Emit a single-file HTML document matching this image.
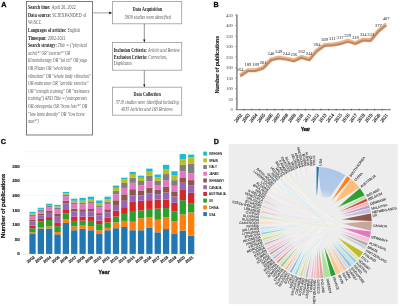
<!DOCTYPE html>
<html><head><meta charset="utf-8"><style>
html,body{margin:0;padding:0;background:#fff;width:400px;height:306px;overflow:hidden}
svg{display:block;will-change:transform;filter:blur(0.3px)}
</style></head><body>
<svg width="400" height="306" viewBox="0 0 400 306">
<rect width="400" height="306" fill="#fff"/>
<text x="1.3" y="6.5" font-family="Liberation Sans" font-weight="bold" font-size="7.2" fill="#111" stroke="#111" stroke-width="0.35">A</text>
<text x="213.6" y="6.6" font-family="Liberation Sans" font-weight="bold" font-size="7.2" fill="#111" stroke="#111" stroke-width="0.35">B</text>
<text x="0.8" y="143.8" font-family="Liberation Sans" font-weight="bold" font-size="7.2" fill="#111" stroke="#111" stroke-width="0.35">C</text>
<text x="213.8" y="144.0" font-family="Liberation Sans" font-weight="bold" font-size="7.2" fill="#111" stroke="#111" stroke-width="0.35">D</text>
<rect x="26.5" y="1.5" width="66" height="133.5" fill="none" stroke="#6e6e6e" stroke-width="0.9"/>
<text x="28" y="9.20" font-family="Liberation Serif" font-size="5.15" fill="#222" textLength="47.8" lengthAdjust="spacingAndGlyphs"><tspan font-weight="bold" font-style="normal" fill="#1a1a1a">Search time: </tspan><tspan font-weight="normal" font-style="normal" fill="#585858">April 26, 2022</tspan></text>
<text x="28" y="16.80" font-family="Liberation Serif" font-size="5.15" fill="#222" textLength="58.3" lengthAdjust="spacingAndGlyphs"><tspan font-weight="bold" font-style="normal" fill="#1a1a1a">Data source: </tspan><tspan font-weight="normal" font-style="normal" fill="#585858">SCIEXPANDED of</tspan></text>
<text x="28" y="24.40" font-family="Liberation Serif" font-size="5.15" fill="#222" textLength="13.5" lengthAdjust="spacingAndGlyphs"><tspan font-weight="normal" font-style="normal" fill="#585858">WoSCC</tspan></text>
<text x="28" y="32.00" font-family="Liberation Serif" font-size="5.15" fill="#222" textLength="52.0" lengthAdjust="spacingAndGlyphs"><tspan font-weight="bold" font-style="normal" fill="#1a1a1a">Languages of articles: </tspan><tspan font-weight="normal" font-style="normal" fill="#585858">English</tspan></text>
<text x="28" y="39.60" font-family="Liberation Serif" font-size="5.15" fill="#222" textLength="37.6" lengthAdjust="spacingAndGlyphs"><tspan font-weight="bold" font-style="normal" fill="#1a1a1a">Timespan: </tspan><tspan font-weight="normal" font-style="normal" fill="#585858">2002-2021</tspan></text>
<text x="28" y="47.20" font-family="Liberation Serif" font-size="5.15" fill="#222" textLength="59.0" lengthAdjust="spacingAndGlyphs"><tspan font-weight="bold" font-style="normal" fill="#1a1a1a">Search strategy: </tspan><tspan font-weight="normal" font-style="italic" fill="#585858">Title = ("physical</tspan></text>
<text x="28" y="54.80" font-family="Liberation Serif" font-size="5.15" fill="#222" textLength="42.0" lengthAdjust="spacingAndGlyphs"><tspan font-weight="normal" font-style="italic" fill="#585858">activit*" OR "exercise*" OR</tspan></text>
<text x="28" y="62.40" font-family="Liberation Serif" font-size="5.15" fill="#222" textLength="59.0" lengthAdjust="spacingAndGlyphs"><tspan font-weight="normal" font-style="italic" fill="#585858">Kinesiotherapy OR "tai chi" OR yoga</tspan></text>
<text x="28" y="70.00" font-family="Liberation Serif" font-size="5.15" fill="#222" textLength="44.0" lengthAdjust="spacingAndGlyphs"><tspan font-weight="normal" font-style="italic" fill="#585858">OR Pilates OR "whole body</tspan></text>
<text x="28" y="77.60" font-family="Liberation Serif" font-size="5.15" fill="#222" textLength="62.7" lengthAdjust="spacingAndGlyphs"><tspan font-weight="normal" font-style="italic" fill="#585858">vibration" OR "whole body vibration"</tspan></text>
<text x="28" y="85.20" font-family="Liberation Serif" font-size="5.15" fill="#222" textLength="60.4" lengthAdjust="spacingAndGlyphs"><tspan font-weight="normal" font-style="italic" fill="#585858">OR endurance OR "aerobic exercise"</tspan></text>
<text x="28" y="92.80" font-family="Liberation Serif" font-size="5.15" fill="#222" textLength="61.8" lengthAdjust="spacingAndGlyphs"><tspan font-weight="normal" font-style="italic" fill="#585858">OR "strength training" OR "resistance</tspan></text>
<text x="28" y="100.40" font-family="Liberation Serif" font-size="5.15" fill="#222" textLength="59.0" lengthAdjust="spacingAndGlyphs"><tspan font-weight="normal" font-style="italic" fill="#585858">training") AND Title = (osteoporosis</tspan></text>
<text x="28" y="108.00" font-family="Liberation Serif" font-size="5.15" fill="#222" textLength="59.2" lengthAdjust="spacingAndGlyphs"><tspan font-weight="normal" font-style="italic" fill="#585858">OR osteopenia OR "bone loss*" OR</tspan></text>
<text x="28" y="115.60" font-family="Liberation Serif" font-size="5.15" fill="#222" textLength="56.5" lengthAdjust="spacingAndGlyphs"><tspan font-weight="normal" font-style="italic" fill="#585858">"low bone density" OR "low bone</tspan></text>
<text x="28" y="123.20" font-family="Liberation Serif" font-size="5.15" fill="#222" textLength="10.7" lengthAdjust="spacingAndGlyphs"><tspan font-weight="normal" font-style="italic" fill="#585858">mass*")</tspan></text>
<g fill="none" stroke="#9a9a9a" stroke-width="0.8">
<rect x="112.4" y="1.6" width="69.3" height="22.2"/>
<rect x="112.4" y="42.4" width="69.3" height="27.8"/>
<rect x="112.4" y="87.2" width="69.3" height="28"/>
</g>
<line x1="92.9" y1="12.9" x2="110" y2="12.9" stroke="#8a8a8a" stroke-width="0.8"/>
<path d="M109.2 11.6 L112.2 12.9 L109.2 14.2 Z" fill="#111"/>
<line x1="144.3" y1="23.8" x2="144.3" y2="40.5" stroke="#777" stroke-width="0.8"/>
<path d="M143.2 39.6 L144.3 42.4 L145.4 39.6 Z" fill="#111"/>
<line x1="144.3" y1="70.2" x2="144.3" y2="85.3" stroke="#777" stroke-width="0.8"/>
<path d="M143.2 84.4 L144.3 87.2 L145.4 84.4 Z" fill="#111"/>
<text x="132.7" y="11.0" font-family="Liberation Serif" font-size="5.4" fill="#1a1a1a" font-style="normal" font-weight="bold" text-anchor="start" textLength="29.3" lengthAdjust="spacingAndGlyphs">Data Acquisition</text>
<text x="124.5" y="18.6" font-family="Liberation Serif" font-size="5.4" fill="#585858" font-style="italic" font-weight="normal" text-anchor="start" textLength="46.2" lengthAdjust="spacingAndGlyphs">5800 studies were identified</text>
<text x="113.7" y="51.5" font-family="Liberation Serif" font-size="5.4" fill="#222" textLength="66" lengthAdjust="spacingAndGlyphs"><tspan font-weight="bold" fill="#1a1a1a">Inclusion Criteria: </tspan><tspan fill="#585858" font-style="italic">Article and Review</tspan></text>
<text x="113.7" y="58.8" font-family="Liberation Serif" font-size="5.4" fill="#222" textLength="53.3" lengthAdjust="spacingAndGlyphs"><tspan font-weight="bold" fill="#1a1a1a">Exclusion Criteria: </tspan><tspan fill="#585858" font-style="italic">Correction,</tspan></text>
<text x="113.7" y="65.3" font-family="Liberation Serif" font-size="5.4" fill="#585858" font-style="italic" font-weight="normal" text-anchor="start" textLength="18.3" lengthAdjust="spacingAndGlyphs">Duplicates</text>
<text x="133.5" y="96.3" font-family="Liberation Serif" font-size="5.4" fill="#1a1a1a" font-style="normal" font-weight="bold" text-anchor="start" textLength="27.2" lengthAdjust="spacingAndGlyphs">Data Collection</text>
<text x="115.8" y="103.8" font-family="Liberation Serif" font-size="5.4" fill="#585858" font-style="italic" font-weight="normal" text-anchor="start" textLength="62.9" lengthAdjust="spacingAndGlyphs">3719 studies were identified including</text>
<text x="121.0" y="111.0" font-family="Liberation Serif" font-size="5.4" fill="#585858" font-style="italic" font-weight="normal" text-anchor="start" textLength="51.7" lengthAdjust="spacingAndGlyphs">4035 Articles and 163 Reviews</text>
<g stroke="#7a7a7a" stroke-width="0.9">
<line x1="236.9" y1="14.5" x2="236.9" y2="109.6" stroke-width="1.4"/>
<line x1="236.2" y1="109.6" x2="389.5" y2="109.6" stroke="#8a8a8a" stroke-width="1.1"/>
<line x1="235.4" y1="109.60" x2="236.9" y2="109.60"/>
<line x1="235.4" y1="99.09" x2="236.9" y2="99.09"/>
<line x1="235.4" y1="88.58" x2="236.9" y2="88.58"/>
<line x1="235.4" y1="78.07" x2="236.9" y2="78.07"/>
<line x1="235.4" y1="67.56" x2="236.9" y2="67.56"/>
<line x1="235.4" y1="57.04" x2="236.9" y2="57.04"/>
<line x1="235.4" y1="46.53" x2="236.9" y2="46.53"/>
<line x1="235.4" y1="36.02" x2="236.9" y2="36.02"/>
<line x1="235.4" y1="25.51" x2="236.9" y2="25.51"/>
<line x1="235.4" y1="15.00" x2="236.9" y2="15.00"/>
<line x1="244.04" y1="108.8" x2="244.04" y2="110.39999999999999" stroke="#555"/>
<line x1="251.72" y1="108.8" x2="251.72" y2="110.39999999999999" stroke="#555"/>
<line x1="259.40" y1="108.8" x2="259.40" y2="110.39999999999999" stroke="#555"/>
<line x1="267.08" y1="108.8" x2="267.08" y2="110.39999999999999" stroke="#555"/>
<line x1="274.76" y1="108.8" x2="274.76" y2="110.39999999999999" stroke="#555"/>
<line x1="282.44" y1="108.8" x2="282.44" y2="110.39999999999999" stroke="#555"/>
<line x1="290.12" y1="108.8" x2="290.12" y2="110.39999999999999" stroke="#555"/>
<line x1="297.80" y1="108.8" x2="297.80" y2="110.39999999999999" stroke="#555"/>
<line x1="305.48" y1="108.8" x2="305.48" y2="110.39999999999999" stroke="#555"/>
<line x1="313.16" y1="108.8" x2="313.16" y2="110.39999999999999" stroke="#555"/>
<line x1="320.84" y1="108.8" x2="320.84" y2="110.39999999999999" stroke="#555"/>
<line x1="328.52" y1="108.8" x2="328.52" y2="110.39999999999999" stroke="#555"/>
<line x1="336.20" y1="108.8" x2="336.20" y2="110.39999999999999" stroke="#555"/>
<line x1="343.88" y1="108.8" x2="343.88" y2="110.39999999999999" stroke="#555"/>
<line x1="351.56" y1="108.8" x2="351.56" y2="110.39999999999999" stroke="#555"/>
<line x1="359.24" y1="108.8" x2="359.24" y2="110.39999999999999" stroke="#555"/>
<line x1="366.92" y1="108.8" x2="366.92" y2="110.39999999999999" stroke="#555"/>
<line x1="374.60" y1="108.8" x2="374.60" y2="110.39999999999999" stroke="#555"/>
<line x1="382.28" y1="108.8" x2="382.28" y2="110.39999999999999" stroke="#555"/>
<line x1="389.96" y1="108.8" x2="389.96" y2="110.39999999999999" stroke="#555"/>
</g>
<text x="232.8" y="111.10" font-family="Liberation Serif" font-size="4.4" fill="#333" text-anchor="end">0</text>
<text x="232.8" y="100.59" font-family="Liberation Serif" font-size="4.4" fill="#333" text-anchor="end">50</text>
<text x="232.8" y="90.08" font-family="Liberation Serif" font-size="4.4" fill="#333" text-anchor="end">100</text>
<text x="232.8" y="79.57" font-family="Liberation Serif" font-size="4.4" fill="#333" text-anchor="end">150</text>
<text x="232.8" y="69.06" font-family="Liberation Serif" font-size="4.4" fill="#333" text-anchor="end">200</text>
<text x="232.8" y="58.54" font-family="Liberation Serif" font-size="4.4" fill="#333" text-anchor="end">250</text>
<text x="232.8" y="48.03" font-family="Liberation Serif" font-size="4.4" fill="#333" text-anchor="end">300</text>
<text x="232.8" y="37.52" font-family="Liberation Serif" font-size="4.4" fill="#333" text-anchor="end">350</text>
<text x="232.8" y="27.01" font-family="Liberation Serif" font-size="4.4" fill="#333" text-anchor="end">400</text>
<text x="232.8" y="16.50" font-family="Liberation Serif" font-size="4.4" fill="#333" text-anchor="end">450</text>
<polyline points="240.20,75.62 247.88,70.37 255.56,70.37 263.24,67.85 270.92,59.65 278.60,57.75 286.28,58.81 293.96,60.49 301.64,57.12 309.32,59.44 317.00,50.40 324.68,45.14 332.36,44.72 340.04,43.46 347.72,40.94 355.40,43.25 363.08,39.89 370.76,40.10 378.44,30.85 386.12,24.54" fill="none" stroke="#f2c6a4" stroke-width="4.4" stroke-linejoin="round"/>
<polyline points="240.20,74.42 247.88,69.17 255.56,69.17 263.24,66.65 270.92,58.45 278.60,56.55 286.28,57.61 293.96,59.29 301.64,55.92 309.32,58.24 317.00,49.20 324.68,43.94 332.36,43.52 340.04,42.26 347.72,39.74 355.40,42.05 363.08,38.69 370.76,38.90 378.44,29.65 386.12,23.34" fill="none" stroke="#f3ae78" stroke-width="1.3" stroke-linejoin="round"/>
<polyline points="240.20,76.22 247.88,70.97 255.56,70.97 263.24,68.45 270.92,60.25 278.60,58.35 286.28,59.41 293.96,61.09 301.64,57.72 309.32,60.04 317.00,51.00 324.68,45.74 332.36,45.32 340.04,44.06 347.72,41.54 355.40,43.85 363.08,40.49 370.76,40.70 378.44,31.45 386.12,25.14" fill="none" stroke="#b48868" stroke-width="1.9" stroke-linejoin="round"/>
<text x="240.20" y="71.32" font-family="Liberation Serif" font-size="4.6" fill="#222" text-anchor="middle">164</text>
<text x="247.88" y="66.07" font-family="Liberation Serif" font-size="4.6" fill="#222" text-anchor="middle">189</text>
<text x="255.56" y="66.07" font-family="Liberation Serif" font-size="4.6" fill="#222" text-anchor="middle">189</text>
<text x="263.24" y="63.55" font-family="Liberation Serif" font-size="4.6" fill="#222" text-anchor="middle">201</text>
<text x="270.92" y="55.35" font-family="Liberation Serif" font-size="4.6" fill="#222" text-anchor="middle">240</text>
<text x="278.60" y="53.45" font-family="Liberation Serif" font-size="4.6" fill="#222" text-anchor="middle">249</text>
<text x="286.28" y="54.51" font-family="Liberation Serif" font-size="4.6" fill="#222" text-anchor="middle">244</text>
<text x="293.96" y="56.19" font-family="Liberation Serif" font-size="4.6" fill="#222" text-anchor="middle">236</text>
<text x="301.64" y="52.82" font-family="Liberation Serif" font-size="4.6" fill="#222" text-anchor="middle">262</text>
<text x="309.32" y="55.14" font-family="Liberation Serif" font-size="4.6" fill="#222" text-anchor="middle">241</text>
<text x="317.00" y="46.10" font-family="Liberation Serif" font-size="4.6" fill="#222" text-anchor="middle">284</text>
<text x="324.68" y="40.84" font-family="Liberation Serif" font-size="4.6" fill="#222" text-anchor="middle">309</text>
<text x="332.36" y="40.42" font-family="Liberation Serif" font-size="4.6" fill="#222" text-anchor="middle">311</text>
<text x="340.04" y="39.16" font-family="Liberation Serif" font-size="4.6" fill="#222" text-anchor="middle">317</text>
<text x="347.72" y="36.64" font-family="Liberation Serif" font-size="4.6" fill="#222" text-anchor="middle">329</text>
<text x="355.40" y="38.95" font-family="Liberation Serif" font-size="4.6" fill="#222" text-anchor="middle">318</text>
<text x="363.08" y="35.59" font-family="Liberation Serif" font-size="4.6" fill="#222" text-anchor="middle">334</text>
<text x="370.76" y="35.80" font-family="Liberation Serif" font-size="4.6" fill="#222" text-anchor="middle">333</text>
<text x="378.44" y="26.55" font-family="Liberation Serif" font-size="4.6" fill="#222" text-anchor="middle">377</text>
<text x="386.12" y="20.24" font-family="Liberation Serif" font-size="4.6" fill="#222" text-anchor="middle">407</text>
<text transform="translate(241.10,114.10) rotate(-52)" font-family="Liberation Serif" font-size="4.8" fill="#222" stroke="#333" stroke-width="0.2" text-anchor="end" dy="1.6">2002</text>
<text transform="translate(248.78,114.10) rotate(-52)" font-family="Liberation Serif" font-size="4.8" fill="#222" stroke="#333" stroke-width="0.2" text-anchor="end" dy="1.6">2003</text>
<text transform="translate(256.46,114.10) rotate(-52)" font-family="Liberation Serif" font-size="4.8" fill="#222" stroke="#333" stroke-width="0.2" text-anchor="end" dy="1.6">2004</text>
<text transform="translate(264.14,114.10) rotate(-52)" font-family="Liberation Serif" font-size="4.8" fill="#222" stroke="#333" stroke-width="0.2" text-anchor="end" dy="1.6">2005</text>
<text transform="translate(271.82,114.10) rotate(-52)" font-family="Liberation Serif" font-size="4.8" fill="#222" stroke="#333" stroke-width="0.2" text-anchor="end" dy="1.6">2006</text>
<text transform="translate(279.50,114.10) rotate(-52)" font-family="Liberation Serif" font-size="4.8" fill="#222" stroke="#333" stroke-width="0.2" text-anchor="end" dy="1.6">2007</text>
<text transform="translate(287.18,114.10) rotate(-52)" font-family="Liberation Serif" font-size="4.8" fill="#222" stroke="#333" stroke-width="0.2" text-anchor="end" dy="1.6">2008</text>
<text transform="translate(294.86,114.10) rotate(-52)" font-family="Liberation Serif" font-size="4.8" fill="#222" stroke="#333" stroke-width="0.2" text-anchor="end" dy="1.6">2009</text>
<text transform="translate(302.54,114.10) rotate(-52)" font-family="Liberation Serif" font-size="4.8" fill="#222" stroke="#333" stroke-width="0.2" text-anchor="end" dy="1.6">2010</text>
<text transform="translate(310.22,114.10) rotate(-52)" font-family="Liberation Serif" font-size="4.8" fill="#222" stroke="#333" stroke-width="0.2" text-anchor="end" dy="1.6">2011</text>
<text transform="translate(317.90,114.10) rotate(-52)" font-family="Liberation Serif" font-size="4.8" fill="#222" stroke="#333" stroke-width="0.2" text-anchor="end" dy="1.6">2012</text>
<text transform="translate(325.58,114.10) rotate(-52)" font-family="Liberation Serif" font-size="4.8" fill="#222" stroke="#333" stroke-width="0.2" text-anchor="end" dy="1.6">2013</text>
<text transform="translate(333.26,114.10) rotate(-52)" font-family="Liberation Serif" font-size="4.8" fill="#222" stroke="#333" stroke-width="0.2" text-anchor="end" dy="1.6">2014</text>
<text transform="translate(340.94,114.10) rotate(-52)" font-family="Liberation Serif" font-size="4.8" fill="#222" stroke="#333" stroke-width="0.2" text-anchor="end" dy="1.6">2015</text>
<text transform="translate(348.62,114.10) rotate(-52)" font-family="Liberation Serif" font-size="4.8" fill="#222" stroke="#333" stroke-width="0.2" text-anchor="end" dy="1.6">2016</text>
<text transform="translate(356.30,114.10) rotate(-52)" font-family="Liberation Serif" font-size="4.8" fill="#222" stroke="#333" stroke-width="0.2" text-anchor="end" dy="1.6">2017</text>
<text transform="translate(363.98,114.10) rotate(-52)" font-family="Liberation Serif" font-size="4.8" fill="#222" stroke="#333" stroke-width="0.2" text-anchor="end" dy="1.6">2018</text>
<text transform="translate(371.66,114.10) rotate(-52)" font-family="Liberation Serif" font-size="4.8" fill="#222" stroke="#333" stroke-width="0.2" text-anchor="end" dy="1.6">2019</text>
<text transform="translate(379.34,114.10) rotate(-52)" font-family="Liberation Serif" font-size="4.8" fill="#222" stroke="#333" stroke-width="0.2" text-anchor="end" dy="1.6">2020</text>
<text transform="translate(387.02,114.10) rotate(-52)" font-family="Liberation Serif" font-size="4.8" fill="#222" stroke="#333" stroke-width="0.2" text-anchor="end" dy="1.6">2021</text>
<text transform="translate(218.6,64.6) rotate(-90)" font-family="Liberation Sans" font-weight="bold" font-size="5.2" fill="#1a1a1a" stroke="#1a1a1a" stroke-width="0.12" text-anchor="middle" textLength="57.3" lengthAdjust="spacingAndGlyphs">Number of publications</text>
<text x="301" y="131.2" font-family="Liberation Sans" font-weight="bold" font-size="5.1" fill="#1a1a1a" stroke="#1a1a1a" stroke-width="0.35" textLength="9" lengthAdjust="spacingAndGlyphs">Year</text>
<line x1="22" y1="239.30" x2="197" y2="239.30" stroke="#f1f1f1" stroke-width="0.6"/>
<line x1="22" y1="224.70" x2="197" y2="224.70" stroke="#f1f1f1" stroke-width="0.6"/>
<line x1="22" y1="210.10" x2="197" y2="210.10" stroke="#f1f1f1" stroke-width="0.6"/>
<line x1="22" y1="195.50" x2="197" y2="195.50" stroke="#f1f1f1" stroke-width="0.6"/>
<line x1="22" y1="180.90" x2="197" y2="180.90" stroke="#f1f1f1" stroke-width="0.6"/>
<line x1="22" y1="166.30" x2="197" y2="166.30" stroke="#f1f1f1" stroke-width="0.6"/>
<line x1="22" y1="151.70" x2="197" y2="151.70" stroke="#f1f1f1" stroke-width="0.6"/>
<line x1="21" y1="254.1" x2="197" y2="254.1" stroke="#e8d7c8" stroke-width="0.6"/>
<text x="19.6" y="255.40" font-family="Liberation Sans" font-weight="bold" font-size="4.4" fill="#1a1a1a" stroke="#1a1a1a" stroke-width="0.15" text-anchor="end">0</text>
<text x="19.6" y="240.80" font-family="Liberation Sans" font-weight="bold" font-size="4.4" fill="#1a1a1a" stroke="#1a1a1a" stroke-width="0.15" text-anchor="end">50</text>
<text x="19.6" y="226.20" font-family="Liberation Sans" font-weight="bold" font-size="4.4" fill="#1a1a1a" stroke="#1a1a1a" stroke-width="0.15" text-anchor="end">100</text>
<text x="19.6" y="211.60" font-family="Liberation Sans" font-weight="bold" font-size="4.4" fill="#1a1a1a" stroke="#1a1a1a" stroke-width="0.15" text-anchor="end">150</text>
<text x="19.6" y="197.00" font-family="Liberation Sans" font-weight="bold" font-size="4.4" fill="#1a1a1a" stroke="#1a1a1a" stroke-width="0.15" text-anchor="end">200</text>
<text x="19.6" y="182.40" font-family="Liberation Sans" font-weight="bold" font-size="4.4" fill="#1a1a1a" stroke="#1a1a1a" stroke-width="0.15" text-anchor="end">250</text>
<text x="19.6" y="167.80" font-family="Liberation Sans" font-weight="bold" font-size="4.4" fill="#1a1a1a" stroke="#1a1a1a" stroke-width="0.15" text-anchor="end">300</text>
<rect x="29.35" y="234.04" width="6.3" height="19.86" fill="#1f77b4"/>
<rect x="29.35" y="232.29" width="6.3" height="1.75" fill="#ff7f0e"/>
<rect x="29.35" y="228.20" width="6.3" height="4.09" fill="#2ca02c"/>
<rect x="29.35" y="225.58" width="6.3" height="2.63" fill="#d62728"/>
<rect x="29.35" y="221.46" width="6.3" height="4.12" fill="#9467bd"/>
<rect x="29.35" y="219.40" width="6.3" height="2.06" fill="#8c564b"/>
<rect x="29.35" y="215.97" width="6.3" height="3.43" fill="#e377c2"/>
<rect x="29.35" y="214.60" width="6.3" height="1.37" fill="#7f7f7f"/>
<rect x="29.35" y="213.36" width="6.3" height="1.24" fill="#bcbd22"/>
<rect x="29.35" y="211.85" width="6.3" height="1.51" fill="#17becf"/>
<text transform="translate(34.00,256.60) rotate(-38)" font-family="Liberation Sans" font-weight="bold" font-size="4.0" fill="#2a2a2a" stroke="#2a2a2a" stroke-width="0.15" text-anchor="end" dy="1.5">2002</text>
<rect x="37.70" y="228.50" width="6.3" height="25.40" fill="#1f77b4"/>
<rect x="37.70" y="227.62" width="6.3" height="0.88" fill="#ff7f0e"/>
<rect x="37.70" y="221.20" width="6.3" height="6.42" fill="#2ca02c"/>
<rect x="37.70" y="218.86" width="6.3" height="2.34" fill="#d62728"/>
<rect x="37.70" y="215.45" width="6.3" height="3.41" fill="#9467bd"/>
<rect x="37.70" y="213.76" width="6.3" height="1.69" fill="#8c564b"/>
<rect x="37.70" y="210.95" width="6.3" height="2.80" fill="#e377c2"/>
<rect x="37.70" y="209.84" width="6.3" height="1.11" fill="#7f7f7f"/>
<rect x="37.70" y="208.90" width="6.3" height="0.94" fill="#bcbd22"/>
<rect x="37.70" y="207.76" width="6.3" height="1.14" fill="#17becf"/>
<text transform="translate(42.35,256.60) rotate(-38)" font-family="Liberation Sans" font-weight="bold" font-size="4.0" fill="#2a2a2a" stroke="#2a2a2a" stroke-width="0.15" text-anchor="end" dy="1.5">2003</text>
<rect x="46.05" y="228.50" width="6.3" height="25.40" fill="#1f77b4"/>
<rect x="46.05" y="226.45" width="6.3" height="2.04" fill="#ff7f0e"/>
<rect x="46.05" y="220.03" width="6.3" height="6.42" fill="#2ca02c"/>
<rect x="46.05" y="217.11" width="6.3" height="2.92" fill="#d62728"/>
<rect x="46.05" y="212.88" width="6.3" height="4.23" fill="#9467bd"/>
<rect x="46.05" y="210.79" width="6.3" height="2.08" fill="#8c564b"/>
<rect x="46.05" y="207.37" width="6.3" height="3.43" fill="#e377c2"/>
<rect x="46.05" y="206.03" width="6.3" height="1.34" fill="#7f7f7f"/>
<rect x="46.05" y="204.95" width="6.3" height="1.07" fill="#bcbd22"/>
<rect x="46.05" y="203.68" width="6.3" height="1.28" fill="#17becf"/>
<text transform="translate(50.70,256.60) rotate(-38)" font-family="Liberation Sans" font-weight="bold" font-size="4.0" fill="#2a2a2a" stroke="#2a2a2a" stroke-width="0.15" text-anchor="end" dy="1.5">2004</text>
<rect x="54.40" y="234.34" width="6.3" height="19.56" fill="#1f77b4"/>
<rect x="54.40" y="232.00" width="6.3" height="2.34" fill="#ff7f0e"/>
<rect x="54.40" y="226.16" width="6.3" height="5.84" fill="#2ca02c"/>
<rect x="54.40" y="222.36" width="6.3" height="3.80" fill="#d62728"/>
<rect x="54.40" y="216.71" width="6.3" height="5.65" fill="#9467bd"/>
<rect x="54.40" y="213.95" width="6.3" height="2.76" fill="#8c564b"/>
<rect x="54.40" y="209.44" width="6.3" height="4.51" fill="#e377c2"/>
<rect x="54.40" y="207.69" width="6.3" height="1.75" fill="#7f7f7f"/>
<rect x="54.40" y="206.38" width="6.3" height="1.31" fill="#bcbd22"/>
<rect x="54.40" y="204.84" width="6.3" height="1.53" fill="#17becf"/>
<text transform="translate(59.05,256.60) rotate(-38)" font-family="Liberation Sans" font-weight="bold" font-size="4.0" fill="#2a2a2a" stroke="#2a2a2a" stroke-width="0.15" text-anchor="end" dy="1.5">2005</text>
<rect x="62.75" y="222.95" width="6.3" height="30.95" fill="#1f77b4"/>
<rect x="62.75" y="219.44" width="6.3" height="3.50" fill="#ff7f0e"/>
<rect x="62.75" y="213.60" width="6.3" height="5.84" fill="#2ca02c"/>
<rect x="62.75" y="209.22" width="6.3" height="4.38" fill="#d62728"/>
<rect x="62.75" y="203.54" width="6.3" height="5.69" fill="#9467bd"/>
<rect x="62.75" y="200.78" width="6.3" height="2.76" fill="#8c564b"/>
<rect x="62.75" y="196.30" width="6.3" height="4.48" fill="#e377c2"/>
<rect x="62.75" y="194.58" width="6.3" height="1.72" fill="#7f7f7f"/>
<rect x="62.75" y="193.37" width="6.3" height="1.21" fill="#bcbd22"/>
<rect x="62.75" y="192.00" width="6.3" height="1.38" fill="#17becf"/>
<text transform="translate(67.40,256.60) rotate(-38)" font-family="Liberation Sans" font-weight="bold" font-size="4.0" fill="#2a2a2a" stroke="#2a2a2a" stroke-width="0.15" text-anchor="end" dy="1.5">2006</text>
<rect x="71.10" y="230.25" width="6.3" height="23.65" fill="#1f77b4"/>
<rect x="71.10" y="226.45" width="6.3" height="3.80" fill="#ff7f0e"/>
<rect x="71.10" y="220.90" width="6.3" height="5.55" fill="#2ca02c"/>
<rect x="71.10" y="216.52" width="6.3" height="4.38" fill="#d62728"/>
<rect x="71.10" y="211.36" width="6.3" height="5.17" fill="#9467bd"/>
<rect x="71.10" y="208.69" width="6.3" height="2.67" fill="#8c564b"/>
<rect x="71.10" y="204.06" width="6.3" height="4.63" fill="#e377c2"/>
<rect x="71.10" y="202.45" width="6.3" height="1.60" fill="#7f7f7f"/>
<rect x="71.10" y="200.76" width="6.3" height="1.69" fill="#bcbd22"/>
<rect x="71.10" y="198.71" width="6.3" height="2.05" fill="#17becf"/>
<text transform="translate(75.75,256.60) rotate(-38)" font-family="Liberation Sans" font-weight="bold" font-size="4.0" fill="#2a2a2a" stroke="#2a2a2a" stroke-width="0.15" text-anchor="end" dy="1.5">2007</text>
<rect x="79.45" y="228.79" width="6.3" height="25.11" fill="#1f77b4"/>
<rect x="79.45" y="225.58" width="6.3" height="3.21" fill="#ff7f0e"/>
<rect x="79.45" y="220.61" width="6.3" height="4.96" fill="#2ca02c"/>
<rect x="79.45" y="216.52" width="6.3" height="4.09" fill="#d62728"/>
<rect x="79.45" y="211.85" width="6.3" height="4.67" fill="#9467bd"/>
<rect x="79.45" y="209.24" width="6.3" height="2.62" fill="#8c564b"/>
<rect x="79.45" y="204.38" width="6.3" height="4.86" fill="#e377c2"/>
<rect x="79.45" y="202.88" width="6.3" height="1.50" fill="#7f7f7f"/>
<rect x="79.45" y="200.64" width="6.3" height="2.24" fill="#bcbd22"/>
<rect x="79.45" y="197.84" width="6.3" height="2.80" fill="#17becf"/>
<text transform="translate(84.10,256.60) rotate(-38)" font-family="Liberation Sans" font-weight="bold" font-size="4.0" fill="#2a2a2a" stroke="#2a2a2a" stroke-width="0.15" text-anchor="end" dy="1.5">2008</text>
<rect x="87.80" y="230.25" width="6.3" height="23.65" fill="#1f77b4"/>
<rect x="87.80" y="226.16" width="6.3" height="4.09" fill="#ff7f0e"/>
<rect x="87.80" y="220.90" width="6.3" height="5.26" fill="#2ca02c"/>
<rect x="87.80" y="216.52" width="6.3" height="4.38" fill="#d62728"/>
<rect x="87.80" y="211.56" width="6.3" height="4.96" fill="#9467bd"/>
<rect x="87.80" y="208.98" width="6.3" height="2.58" fill="#8c564b"/>
<rect x="87.80" y="203.62" width="6.3" height="5.36" fill="#e377c2"/>
<rect x="87.80" y="202.03" width="6.3" height="1.59" fill="#7f7f7f"/>
<rect x="87.80" y="199.65" width="6.3" height="2.38" fill="#bcbd22"/>
<rect x="87.80" y="196.67" width="6.3" height="2.98" fill="#17becf"/>
<text transform="translate(92.45,256.60) rotate(-38)" font-family="Liberation Sans" font-weight="bold" font-size="4.0" fill="#2a2a2a" stroke="#2a2a2a" stroke-width="0.15" text-anchor="end" dy="1.5">2009</text>
<rect x="96.15" y="234.04" width="6.3" height="19.86" fill="#1f77b4"/>
<rect x="96.15" y="230.25" width="6.3" height="3.80" fill="#ff7f0e"/>
<rect x="96.15" y="224.12" width="6.3" height="6.13" fill="#2ca02c"/>
<rect x="96.15" y="220.61" width="6.3" height="3.50" fill="#d62728"/>
<rect x="96.15" y="215.58" width="6.3" height="5.04" fill="#9467bd"/>
<rect x="96.15" y="213.16" width="6.3" height="2.42" fill="#8c564b"/>
<rect x="96.15" y="207.52" width="6.3" height="5.64" fill="#e377c2"/>
<rect x="96.15" y="205.90" width="6.3" height="1.61" fill="#7f7f7f"/>
<rect x="96.15" y="203.49" width="6.3" height="2.42" fill="#bcbd22"/>
<rect x="96.15" y="200.46" width="6.3" height="3.02" fill="#17becf"/>
<text transform="translate(100.80,256.60) rotate(-38)" font-family="Liberation Sans" font-weight="bold" font-size="4.0" fill="#2a2a2a" stroke="#2a2a2a" stroke-width="0.15" text-anchor="end" dy="1.5">2010</text>
<rect x="104.50" y="230.25" width="6.3" height="23.65" fill="#1f77b4"/>
<rect x="104.50" y="227.91" width="6.3" height="2.34" fill="#ff7f0e"/>
<rect x="104.50" y="222.36" width="6.3" height="5.55" fill="#2ca02c"/>
<rect x="104.50" y="217.40" width="6.3" height="4.96" fill="#d62728"/>
<rect x="104.50" y="212.44" width="6.3" height="4.96" fill="#9467bd"/>
<rect x="104.50" y="209.27" width="6.3" height="3.17" fill="#8c564b"/>
<rect x="104.50" y="203.90" width="6.3" height="5.37" fill="#e377c2"/>
<rect x="104.50" y="201.63" width="6.3" height="2.27" fill="#7f7f7f"/>
<rect x="104.50" y="199.15" width="6.3" height="2.48" fill="#bcbd22"/>
<rect x="104.50" y="196.67" width="6.3" height="2.48" fill="#17becf"/>
<text transform="translate(109.15,256.60) rotate(-38)" font-family="Liberation Sans" font-weight="bold" font-size="4.0" fill="#2a2a2a" stroke="#2a2a2a" stroke-width="0.15" text-anchor="end" dy="1.5">2011</text>
<rect x="112.85" y="228.20" width="6.3" height="25.70" fill="#1f77b4"/>
<rect x="112.85" y="222.36" width="6.3" height="5.84" fill="#ff7f0e"/>
<rect x="112.85" y="216.52" width="6.3" height="5.84" fill="#2ca02c"/>
<rect x="112.85" y="210.68" width="6.3" height="5.84" fill="#d62728"/>
<rect x="112.85" y="204.95" width="6.3" height="5.74" fill="#9467bd"/>
<rect x="112.85" y="200.29" width="6.3" height="4.66" fill="#8c564b"/>
<rect x="112.85" y="194.30" width="6.3" height="5.99" fill="#e377c2"/>
<rect x="112.85" y="190.81" width="6.3" height="3.49" fill="#7f7f7f"/>
<rect x="112.85" y="187.82" width="6.3" height="2.99" fill="#bcbd22"/>
<rect x="112.85" y="185.57" width="6.3" height="2.25" fill="#17becf"/>
<text transform="translate(117.50,256.60) rotate(-38)" font-family="Liberation Sans" font-weight="bold" font-size="4.0" fill="#2a2a2a" stroke="#2a2a2a" stroke-width="0.15" text-anchor="end" dy="1.5">2012</text>
<rect x="121.20" y="227.04" width="6.3" height="26.86" fill="#1f77b4"/>
<rect x="121.20" y="220.90" width="6.3" height="6.13" fill="#ff7f0e"/>
<rect x="121.20" y="213.90" width="6.3" height="7.01" fill="#2ca02c"/>
<rect x="121.20" y="207.18" width="6.3" height="6.72" fill="#d62728"/>
<rect x="121.20" y="200.76" width="6.3" height="6.42" fill="#9467bd"/>
<rect x="121.20" y="194.33" width="6.3" height="6.42" fill="#8c564b"/>
<rect x="121.20" y="187.91" width="6.3" height="6.42" fill="#e377c2"/>
<rect x="121.20" y="182.94" width="6.3" height="4.96" fill="#7f7f7f"/>
<rect x="121.20" y="179.44" width="6.3" height="3.50" fill="#bcbd22"/>
<rect x="121.20" y="177.69" width="6.3" height="1.75" fill="#17becf"/>
<text transform="translate(125.85,256.60) rotate(-38)" font-family="Liberation Sans" font-weight="bold" font-size="4.0" fill="#2a2a2a" stroke="#2a2a2a" stroke-width="0.15" text-anchor="end" dy="1.5">2013</text>
<rect x="129.55" y="230.25" width="6.3" height="23.65" fill="#1f77b4"/>
<rect x="129.55" y="221.78" width="6.3" height="8.47" fill="#ff7f0e"/>
<rect x="129.55" y="211.85" width="6.3" height="9.93" fill="#2ca02c"/>
<rect x="129.55" y="201.92" width="6.3" height="9.93" fill="#d62728"/>
<rect x="129.55" y="195.45" width="6.3" height="6.48" fill="#9467bd"/>
<rect x="129.55" y="189.19" width="6.3" height="6.26" fill="#8c564b"/>
<rect x="129.55" y="182.84" width="6.3" height="6.35" fill="#e377c2"/>
<rect x="129.55" y="177.73" width="6.3" height="5.11" fill="#7f7f7f"/>
<rect x="129.55" y="174.02" width="6.3" height="3.71" fill="#bcbd22"/>
<rect x="129.55" y="171.85" width="6.3" height="2.17" fill="#17becf"/>
<text transform="translate(134.20,256.60) rotate(-38)" font-family="Liberation Sans" font-weight="bold" font-size="4.0" fill="#2a2a2a" stroke="#2a2a2a" stroke-width="0.15" text-anchor="end" dy="1.5">2014</text>
<rect x="137.90" y="230.25" width="6.3" height="23.65" fill="#1f77b4"/>
<rect x="137.90" y="218.28" width="6.3" height="11.97" fill="#ff7f0e"/>
<rect x="137.90" y="210.39" width="6.3" height="7.88" fill="#2ca02c"/>
<rect x="137.90" y="200.76" width="6.3" height="9.64" fill="#d62728"/>
<rect x="137.90" y="195.41" width="6.3" height="5.34" fill="#9467bd"/>
<rect x="137.90" y="190.43" width="6.3" height="4.99" fill="#8c564b"/>
<rect x="137.90" y="185.30" width="6.3" height="5.13" fill="#e377c2"/>
<rect x="137.90" y="180.99" width="6.3" height="4.31" fill="#7f7f7f"/>
<rect x="137.90" y="177.78" width="6.3" height="3.21" fill="#bcbd22"/>
<rect x="137.90" y="175.64" width="6.3" height="2.14" fill="#17becf"/>
<text transform="translate(142.55,256.60) rotate(-38)" font-family="Liberation Sans" font-weight="bold" font-size="4.0" fill="#2a2a2a" stroke="#2a2a2a" stroke-width="0.15" text-anchor="end" dy="1.5">2015</text>
<rect x="146.25" y="227.91" width="6.3" height="25.99" fill="#1f77b4"/>
<rect x="146.25" y="217.11" width="6.3" height="10.80" fill="#ff7f0e"/>
<rect x="146.25" y="208.93" width="6.3" height="8.18" fill="#2ca02c"/>
<rect x="146.25" y="200.17" width="6.3" height="8.76" fill="#d62728"/>
<rect x="146.25" y="193.54" width="6.3" height="6.63" fill="#9467bd"/>
<rect x="146.25" y="187.58" width="6.3" height="5.96" fill="#8c564b"/>
<rect x="146.25" y="181.36" width="6.3" height="6.23" fill="#e377c2"/>
<rect x="146.25" y="175.89" width="6.3" height="5.47" fill="#7f7f7f"/>
<rect x="146.25" y="171.73" width="6.3" height="4.17" fill="#bcbd22"/>
<rect x="146.25" y="168.64" width="6.3" height="3.09" fill="#17becf"/>
<text transform="translate(150.90,256.60) rotate(-38)" font-family="Liberation Sans" font-weight="bold" font-size="4.0" fill="#2a2a2a" stroke="#2a2a2a" stroke-width="0.15" text-anchor="end" dy="1.5">2016</text>
<rect x="154.60" y="232.29" width="6.3" height="21.61" fill="#1f77b4"/>
<rect x="154.60" y="219.74" width="6.3" height="12.56" fill="#ff7f0e"/>
<rect x="154.60" y="208.64" width="6.3" height="11.10" fill="#2ca02c"/>
<rect x="154.60" y="199.59" width="6.3" height="9.05" fill="#d62728"/>
<rect x="154.60" y="194.37" width="6.3" height="5.22" fill="#9467bd"/>
<rect x="154.60" y="189.87" width="6.3" height="4.50" fill="#8c564b"/>
<rect x="154.60" y="185.09" width="6.3" height="4.79" fill="#e377c2"/>
<rect x="154.60" y="180.69" width="6.3" height="4.39" fill="#7f7f7f"/>
<rect x="154.60" y="177.26" width="6.3" height="3.43" fill="#bcbd22"/>
<rect x="154.60" y="174.48" width="6.3" height="2.79" fill="#17becf"/>
<text transform="translate(159.25,256.60) rotate(-38)" font-family="Liberation Sans" font-weight="bold" font-size="4.0" fill="#2a2a2a" stroke="#2a2a2a" stroke-width="0.15" text-anchor="end" dy="1.5">2017</text>
<rect x="162.95" y="229.08" width="6.3" height="24.82" fill="#1f77b4"/>
<rect x="162.95" y="217.11" width="6.3" height="11.97" fill="#ff7f0e"/>
<rect x="162.95" y="208.06" width="6.3" height="9.05" fill="#2ca02c"/>
<rect x="162.95" y="199.59" width="6.3" height="8.47" fill="#d62728"/>
<rect x="162.95" y="192.46" width="6.3" height="7.13" fill="#9467bd"/>
<rect x="162.95" y="186.57" width="6.3" height="5.89" fill="#8c564b"/>
<rect x="162.95" y="180.18" width="6.3" height="6.39" fill="#e377c2"/>
<rect x="162.95" y="174.05" width="6.3" height="6.14" fill="#7f7f7f"/>
<rect x="162.95" y="169.15" width="6.3" height="4.90" fill="#bcbd22"/>
<rect x="162.95" y="164.84" width="6.3" height="4.31" fill="#17becf"/>
<text transform="translate(167.60,256.60) rotate(-38)" font-family="Liberation Sans" font-weight="bold" font-size="4.0" fill="#2a2a2a" stroke="#2a2a2a" stroke-width="0.15" text-anchor="end" dy="1.5">2018</text>
<rect x="171.30" y="234.04" width="6.3" height="19.86" fill="#1f77b4"/>
<rect x="171.30" y="221.20" width="6.3" height="12.85" fill="#ff7f0e"/>
<rect x="171.30" y="211.56" width="6.3" height="9.64" fill="#2ca02c"/>
<rect x="171.30" y="202.80" width="6.3" height="8.76" fill="#d62728"/>
<rect x="171.30" y="196.41" width="6.3" height="6.39" fill="#9467bd"/>
<rect x="171.30" y="191.37" width="6.3" height="5.04" fill="#8c564b"/>
<rect x="171.30" y="185.79" width="6.3" height="5.58" fill="#e377c2"/>
<rect x="171.30" y="180.17" width="6.3" height="5.62" fill="#7f7f7f"/>
<rect x="171.30" y="175.58" width="6.3" height="4.59" fill="#bcbd22"/>
<rect x="171.30" y="171.26" width="6.3" height="4.32" fill="#17becf"/>
<text transform="translate(175.95,256.60) rotate(-38)" font-family="Liberation Sans" font-weight="bold" font-size="4.0" fill="#2a2a2a" stroke="#2a2a2a" stroke-width="0.15" text-anchor="end" dy="1.5">2019</text>
<rect x="179.65" y="230.54" width="6.3" height="23.36" fill="#1f77b4"/>
<rect x="179.65" y="214.48" width="6.3" height="16.06" fill="#ff7f0e"/>
<rect x="179.65" y="200.17" width="6.3" height="14.31" fill="#2ca02c"/>
<rect x="179.65" y="189.95" width="6.3" height="10.22" fill="#d62728"/>
<rect x="179.65" y="182.77" width="6.3" height="7.18" fill="#9467bd"/>
<rect x="179.65" y="177.38" width="6.3" height="5.39" fill="#8c564b"/>
<rect x="179.65" y="171.28" width="6.3" height="6.11" fill="#e377c2"/>
<rect x="179.65" y="164.81" width="6.3" height="6.46" fill="#7f7f7f"/>
<rect x="179.65" y="159.42" width="6.3" height="5.39" fill="#bcbd22"/>
<rect x="179.65" y="154.04" width="6.3" height="5.39" fill="#17becf"/>
<text transform="translate(184.30,256.60) rotate(-38)" font-family="Liberation Sans" font-weight="bold" font-size="4.0" fill="#2a2a2a" stroke="#2a2a2a" stroke-width="0.15" text-anchor="end" dy="1.5">2020</text>
<rect x="188.00" y="235.80" width="6.3" height="18.10" fill="#1f77b4"/>
<rect x="188.00" y="212.44" width="6.3" height="23.36" fill="#ff7f0e"/>
<rect x="188.00" y="203.68" width="6.3" height="8.76" fill="#2ca02c"/>
<rect x="188.00" y="192.87" width="6.3" height="10.80" fill="#d62728"/>
<rect x="188.00" y="185.53" width="6.3" height="7.34" fill="#9467bd"/>
<rect x="188.00" y="180.12" width="6.3" height="5.41" fill="#8c564b"/>
<rect x="188.00" y="173.17" width="6.3" height="6.95" fill="#e377c2"/>
<rect x="188.00" y="163.89" width="6.3" height="9.27" fill="#7f7f7f"/>
<rect x="188.00" y="157.32" width="6.3" height="6.57" fill="#bcbd22"/>
<rect x="188.00" y="154.62" width="6.3" height="2.70" fill="#17becf"/>
<text transform="translate(192.65,256.60) rotate(-38)" font-family="Liberation Sans" font-weight="bold" font-size="4.0" fill="#2a2a2a" stroke="#2a2a2a" stroke-width="0.15" text-anchor="end" dy="1.5">2021</text>
<text transform="translate(5.3,205.9) rotate(-90)" font-family="Liberation Sans" font-size="5.6" fill="#1a1a1a" stroke="#1a1a1a" stroke-width="0.3" text-anchor="middle" textLength="64.0" lengthAdjust="spacingAndGlyphs">Number of publications</text>
<text x="98.5" y="273.5" font-family="Liberation Sans" font-weight="bold" font-size="5.7" fill="#1a1a1a" stroke="#1a1a1a" stroke-width="0.3" textLength="11.2" lengthAdjust="spacingAndGlyphs">Year</text>
<rect x="228.6" y="144" width="169.1" height="160.2" fill="#ededed"/>
<rect x="203.3" y="151.60" width="3.6" height="4" fill="#17becf"/>
<text x="209.1" y="155.05" font-family="Liberation Sans" font-size="4" fill="#222" stroke="#222" stroke-width="0.12" textLength="13.17" lengthAdjust="spacingAndGlyphs">SWEDEN</text>
<rect x="203.3" y="158.32" width="3.6" height="4" fill="#bcbd22"/>
<text x="209.1" y="161.77" font-family="Liberation Sans" font-size="4" fill="#222" stroke="#222" stroke-width="0.12" textLength="8.78" lengthAdjust="spacingAndGlyphs">SPAIN</text>
<rect x="203.3" y="165.04" width="3.6" height="4" fill="#7f7f7f"/>
<text x="209.1" y="168.49" font-family="Liberation Sans" font-size="4" fill="#222" stroke="#222" stroke-width="0.12" textLength="7.89" lengthAdjust="spacingAndGlyphs">ITALY</text>
<rect x="203.3" y="171.76" width="3.6" height="4" fill="#e377c2"/>
<text x="209.1" y="175.21" font-family="Liberation Sans" font-size="4" fill="#222" stroke="#222" stroke-width="0.12" textLength="9.45" lengthAdjust="spacingAndGlyphs">JAPAN</text>
<rect x="203.3" y="178.48" width="3.6" height="4" fill="#8c564b"/>
<text x="209.1" y="181.93" font-family="Liberation Sans" font-size="4" fill="#222" stroke="#222" stroke-width="0.12" textLength="15.17" lengthAdjust="spacingAndGlyphs">GERMANY</text>
<rect x="203.3" y="185.20" width="3.6" height="4" fill="#9467bd"/>
<text x="209.1" y="188.65" font-family="Liberation Sans" font-size="4" fill="#222" stroke="#222" stroke-width="0.12" textLength="12.50" lengthAdjust="spacingAndGlyphs">CANADA</text>
<rect x="203.3" y="191.92" width="3.6" height="4" fill="#d62728"/>
<text x="209.1" y="195.37" font-family="Liberation Sans" font-size="4" fill="#222" stroke="#222" stroke-width="0.12" textLength="16.67" lengthAdjust="spacingAndGlyphs">AUSTRALIA</text>
<rect x="203.3" y="198.64" width="3.6" height="4" fill="#2ca02c"/>
<text x="209.1" y="202.09" font-family="Liberation Sans" font-size="4" fill="#222" stroke="#222" stroke-width="0.12" textLength="4.17" lengthAdjust="spacingAndGlyphs">UK</text>
<rect x="203.3" y="205.36" width="3.6" height="4" fill="#ff7f0e"/>
<text x="209.1" y="208.81" font-family="Liberation Sans" font-size="4" fill="#222" stroke="#222" stroke-width="0.12" textLength="9.33" lengthAdjust="spacingAndGlyphs">CHINA</text>
<rect x="203.3" y="212.08" width="3.6" height="4" fill="#1f77b4"/>
<text x="209.1" y="215.53" font-family="Liberation Sans" font-size="4" fill="#222" stroke="#222" stroke-width="0.12" textLength="6.17" lengthAdjust="spacingAndGlyphs">USA</text>
<defs><radialGradient id="rg" gradientUnits="userSpaceOnUse" cx="316.0" cy="222.5" r="55.7"><stop offset="0.46" stop-color="#fff" stop-opacity="0.3"/><stop offset="0.62" stop-color="#fff" stop-opacity="0.95"/><stop offset="0.9" stop-color="#fff" stop-opacity="1"/></radialGradient><mask id="mk" maskUnits="userSpaceOnUse" x="228" y="144" width="170" height="162"><rect x="228" y="144" width="170" height="162" fill="url(#rg)"/></mask></defs>
<path d="M314.79,272.19 Q325.5,247.7 331.2,223.6" fill="none" stroke="#ffffff" stroke-opacity="0.55" stroke-width="0.96"/>
<path d="M314.79,272.19 Q325.5,247.7 331.2,223.6" fill="none" stroke="#c49c94" stroke-opacity="0.10" stroke-width="0.96"/>
<path d="M312.32,272.06 Q322.3,245.2 332.1,216.8" fill="none" stroke="#ffffff" stroke-opacity="0.55" stroke-width="1.16"/>
<path d="M312.32,272.06 Q322.3,245.2 332.1,216.8" fill="none" stroke="#e377c2" stroke-opacity="0.10" stroke-width="1.16"/>
<path d="M309.86,271.82 Q316.8,247.2 328.7,219.0" fill="none" stroke="#ffffff" stroke-opacity="0.55" stroke-width="1.09"/>
<path d="M309.86,271.82 Q316.8,247.2 328.7,219.0" fill="none" stroke="#f7b6d2" stroke-opacity="0.10" stroke-width="1.09"/>
<path d="M307.41,271.45 Q320.6,252.2 328.3,231.2" fill="none" stroke="#ffffff" stroke-opacity="0.55" stroke-width="1.03"/>
<path d="M307.41,271.45 Q320.6,252.2 328.3,231.2" fill="none" stroke="#7f7f7f" stroke-opacity="0.10" stroke-width="1.03"/>
<path d="M304.99,270.96 Q317.2,239.7 329.1,213.8" fill="none" stroke="#ffffff" stroke-opacity="0.55" stroke-width="0.73"/>
<path d="M304.99,270.96 Q317.2,239.7 329.1,213.8" fill="none" stroke="#c7c7c7" stroke-opacity="0.10" stroke-width="0.73"/>
<path d="M302.59,270.36 Q315.9,241.8 329.7,214.0" fill="none" stroke="#ffffff" stroke-opacity="0.55" stroke-width="1.19"/>
<path d="M302.59,270.36 Q315.9,241.8 329.7,214.0" fill="none" stroke="#bcbd22" stroke-opacity="0.10" stroke-width="1.19"/>
<path d="M300.23,269.63 Q315.9,248.3 331.6,225.0" fill="none" stroke="#ffffff" stroke-opacity="0.55" stroke-width="0.92"/>
<path d="M300.23,269.63 Q315.9,248.3 331.6,225.0" fill="none" stroke="#dbdb8d" stroke-opacity="0.10" stroke-width="0.92"/>
<path d="M297.90,268.79 Q316.9,252.2 329.9,231.5" fill="none" stroke="#ffffff" stroke-opacity="0.55" stroke-width="1.10"/>
<path d="M297.90,268.79 Q316.9,252.2 329.9,231.5" fill="none" stroke="#17becf" stroke-opacity="0.10" stroke-width="1.10"/>
<path d="M295.62,267.83 Q311.6,240.2 330.2,217.6" fill="none" stroke="#ffffff" stroke-opacity="0.55" stroke-width="1.14"/>
<path d="M295.62,267.83 Q311.6,240.2 330.2,217.6" fill="none" stroke="#9edae5" stroke-opacity="0.10" stroke-width="1.14"/>
<path d="M293.39,266.76 Q311.4,250.5 330.8,228.7" fill="none" stroke="#ffffff" stroke-opacity="0.55" stroke-width="1.19"/>
<path d="M293.39,266.76 Q311.4,250.5 330.8,228.7" fill="none" stroke="#1f77b4" stroke-opacity="0.10" stroke-width="1.19"/>
<path d="M291.22,265.58 Q312.1,241.2 328.0,217.3" fill="none" stroke="#ffffff" stroke-opacity="0.55" stroke-width="1.29"/>
<path d="M291.22,265.58 Q312.1,241.2 328.0,217.3" fill="none" stroke="#aec7e8" stroke-opacity="0.10" stroke-width="1.29"/>
<path d="M289.11,264.30 Q310.7,241.2 330.8,214.8" fill="none" stroke="#ffffff" stroke-opacity="0.55" stroke-width="0.79"/>
<path d="M289.11,264.30 Q310.7,241.2 330.8,214.8" fill="none" stroke="#ff7f0e" stroke-opacity="0.10" stroke-width="0.79"/>
<path d="M287.06,262.91 Q310.6,242.7 328.6,219.5" fill="none" stroke="#ffffff" stroke-opacity="0.55" stroke-width="0.68"/>
<path d="M287.06,262.91 Q310.6,242.7 328.6,219.5" fill="none" stroke="#ffbb78" stroke-opacity="0.10" stroke-width="0.68"/>
<path d="M285.09,261.42 Q304.8,240.1 329.7,215.3" fill="none" stroke="#ffffff" stroke-opacity="0.55" stroke-width="0.72"/>
<path d="M285.09,261.42 Q304.8,240.1 329.7,215.3" fill="none" stroke="#2ca02c" stroke-opacity="0.10" stroke-width="0.72"/>
<path d="M283.19,259.83 Q305.7,242.1 331.9,221.6" fill="none" stroke="#ffffff" stroke-opacity="0.55" stroke-width="0.69"/>
<path d="M283.19,259.83 Q305.7,242.1 331.9,221.6" fill="none" stroke="#98df8a" stroke-opacity="0.10" stroke-width="0.69"/>
<path d="M281.37,258.15 Q306.5,235.2 332.5,215.6" fill="none" stroke="#ffffff" stroke-opacity="0.55" stroke-width="0.79"/>
<path d="M281.37,258.15 Q306.5,235.2 332.5,215.6" fill="none" stroke="#d62728" stroke-opacity="0.10" stroke-width="0.79"/>
<path d="M279.64,256.39 Q306.0,244.5 334.8,228.0" fill="none" stroke="#ffffff" stroke-opacity="0.55" stroke-width="0.75"/>
<path d="M279.64,256.39 Q306.0,244.5 334.8,228.0" fill="none" stroke="#ff9896" stroke-opacity="0.10" stroke-width="0.75"/>
<path d="M278.00,254.54 Q305.2,239.3 330.8,228.9" fill="none" stroke="#ffffff" stroke-opacity="0.55" stroke-width="1.29"/>
<path d="M278.00,254.54 Q305.2,239.3 330.8,228.9" fill="none" stroke="#9467bd" stroke-opacity="0.10" stroke-width="1.29"/>
<path d="M276.46,252.61 Q304.6,234.4 329.5,218.1" fill="none" stroke="#ffffff" stroke-opacity="0.55" stroke-width="0.81"/>
<path d="M276.46,252.61 Q304.6,234.4 329.5,218.1" fill="none" stroke="#c5b0d5" stroke-opacity="0.10" stroke-width="0.81"/>
<path d="M275.01,250.60 Q302.3,231.3 328.5,215.1" fill="none" stroke="#ffffff" stroke-opacity="0.55" stroke-width="1.02"/>
<path d="M275.01,250.60 Q302.3,231.3 328.5,215.1" fill="none" stroke="#8c564b" stroke-opacity="0.10" stroke-width="1.02"/>
<path d="M273.66,248.53 Q304.9,235.0 330.6,221.7" fill="none" stroke="#ffffff" stroke-opacity="0.55" stroke-width="1.00"/>
<path d="M273.66,248.53 Q304.9,235.0 330.6,221.7" fill="none" stroke="#c49c94" stroke-opacity="0.10" stroke-width="1.00"/>
<path d="M272.42,246.39 Q301.2,234.0 334.1,216.8" fill="none" stroke="#ffffff" stroke-opacity="0.55" stroke-width="1.17"/>
<path d="M272.42,246.39 Q301.2,234.0 334.1,216.8" fill="none" stroke="#e377c2" stroke-opacity="0.10" stroke-width="1.17"/>
<path d="M271.29,244.20 Q302.0,233.2 329.7,216.9" fill="none" stroke="#ffffff" stroke-opacity="0.55" stroke-width="0.74"/>
<path d="M271.29,244.20 Q302.0,233.2 329.7,216.9" fill="none" stroke="#f7b6d2" stroke-opacity="0.10" stroke-width="0.74"/>
<path d="M270.26,241.94 Q303.1,235.2 334.7,229.4" fill="none" stroke="#ffffff" stroke-opacity="0.55" stroke-width="0.67"/>
<path d="M270.26,241.94 Q303.1,235.2 334.7,229.4" fill="none" stroke="#7f7f7f" stroke-opacity="0.10" stroke-width="0.67"/>
<path d="M269.35,239.65 Q297.2,236.5 328.3,230.8" fill="none" stroke="#ffffff" stroke-opacity="0.55" stroke-width="0.78"/>
<path d="M269.35,239.65 Q297.2,236.5 328.3,230.8" fill="none" stroke="#c7c7c7" stroke-opacity="0.10" stroke-width="0.78"/>
<path d="M268.56,237.30 Q299.9,228.8 333.8,224.2" fill="none" stroke="#ffffff" stroke-opacity="0.55" stroke-width="1.10"/>
<path d="M268.56,237.30 Q299.9,228.8 333.8,224.2" fill="none" stroke="#bcbd22" stroke-opacity="0.10" stroke-width="1.10"/>
<path d="M267.88,234.93 Q298.5,228.4 328.5,217.6" fill="none" stroke="#ffffff" stroke-opacity="0.55" stroke-width="1.03"/>
<path d="M267.88,234.93 Q298.5,228.4 328.5,217.6" fill="none" stroke="#dbdb8d" stroke-opacity="0.10" stroke-width="1.03"/>
<path d="M267.32,232.52 Q296.9,228.4 330.0,230.0" fill="none" stroke="#ffffff" stroke-opacity="0.55" stroke-width="0.79"/>
<path d="M267.32,232.52 Q296.9,228.4 330.0,230.0" fill="none" stroke="#17becf" stroke-opacity="0.10" stroke-width="0.79"/>
<path d="M266.88,230.08 Q297.1,221.5 331.1,214.6" fill="none" stroke="#ffffff" stroke-opacity="0.55" stroke-width="1.00"/>
<path d="M266.88,230.08 Q297.1,221.5 331.1,214.6" fill="none" stroke="#9edae5" stroke-opacity="0.10" stroke-width="1.00"/>
<path d="M266.57,227.63 Q300.1,226.7 328.9,220.0" fill="none" stroke="#ffffff" stroke-opacity="0.55" stroke-width="1.06"/>
<path d="M266.57,227.63 Q300.1,226.7 328.9,220.0" fill="none" stroke="#1f77b4" stroke-opacity="0.10" stroke-width="1.06"/>
<path d="M266.37,225.17 Q297.4,221.8 332.8,224.0" fill="none" stroke="#ffffff" stroke-opacity="0.55" stroke-width="0.61"/>
<path d="M266.37,225.17 Q297.4,221.8 332.8,224.0" fill="none" stroke="#aec7e8" stroke-opacity="0.10" stroke-width="0.61"/>
<path d="M266.30,222.70 Q303.1,221.5 334.4,226.1" fill="none" stroke="#ffffff" stroke-opacity="0.55" stroke-width="1.05"/>
<path d="M266.30,222.70 Q303.1,221.5 334.4,226.1" fill="none" stroke="#ff7f0e" stroke-opacity="0.10" stroke-width="1.05"/>
<path d="M266.35,220.22 Q297.8,226.4 331.4,226.6" fill="none" stroke="#ffffff" stroke-opacity="0.55" stroke-width="0.65"/>
<path d="M266.35,220.22 Q297.8,226.4 331.4,226.6" fill="none" stroke="#ffbb78" stroke-opacity="0.10" stroke-width="0.65"/>
<path d="M266.53,217.76 Q301.6,223.7 331.8,226.8" fill="none" stroke="#ffffff" stroke-opacity="0.55" stroke-width="1.09"/>
<path d="M266.53,217.76 Q301.6,223.7 331.8,226.8" fill="none" stroke="#2ca02c" stroke-opacity="0.10" stroke-width="1.09"/>
<path d="M266.82,215.30 Q299.3,223.7 333.6,230.0" fill="none" stroke="#ffffff" stroke-opacity="0.55" stroke-width="1.23"/>
<path d="M266.82,215.30 Q299.3,223.7 333.6,230.0" fill="none" stroke="#98df8a" stroke-opacity="0.10" stroke-width="1.23"/>
<path d="M267.24,212.87 Q302.4,219.1 334.1,221.0" fill="none" stroke="#ffffff" stroke-opacity="0.55" stroke-width="1.00"/>
<path d="M267.24,212.87 Q302.4,219.1 334.1,221.0" fill="none" stroke="#d62728" stroke-opacity="0.10" stroke-width="1.00"/>
<path d="M267.78,210.45 Q300.6,216.1 332.4,220.4" fill="none" stroke="#ffffff" stroke-opacity="0.55" stroke-width="0.66"/>
<path d="M267.78,210.45 Q300.6,216.1 332.4,220.4" fill="none" stroke="#ff9896" stroke-opacity="0.10" stroke-width="0.66"/>
<path d="M268.44,208.07 Q302.7,221.1 332.5,231.4" fill="none" stroke="#ffffff" stroke-opacity="0.55" stroke-width="0.87"/>
<path d="M268.44,208.07 Q302.7,221.1 332.5,231.4" fill="none" stroke="#9467bd" stroke-opacity="0.10" stroke-width="0.87"/>
<path d="M269.22,205.72 Q300.8,216.9 333.1,224.0" fill="none" stroke="#ffffff" stroke-opacity="0.55" stroke-width="0.66"/>
<path d="M269.22,205.72 Q300.8,216.9 333.1,224.0" fill="none" stroke="#c5b0d5" stroke-opacity="0.10" stroke-width="0.66"/>
<path d="M270.11,203.42 Q302.3,208.6 333.3,214.0" fill="none" stroke="#ffffff" stroke-opacity="0.55" stroke-width="0.76"/>
<path d="M270.11,203.42 Q302.3,208.6 333.3,214.0" fill="none" stroke="#8c564b" stroke-opacity="0.10" stroke-width="0.76"/>
<path d="M271.12,201.16 Q302.7,214.3 332.9,222.5" fill="none" stroke="#ffffff" stroke-opacity="0.55" stroke-width="0.78"/>
<path d="M271.12,201.16 Q302.7,214.3 332.9,222.5" fill="none" stroke="#c49c94" stroke-opacity="0.10" stroke-width="0.78"/>
<path d="M272.23,198.95 Q301.2,207.2 328.1,218.9" fill="none" stroke="#ffffff" stroke-opacity="0.55" stroke-width="0.72"/>
<path d="M272.23,198.95 Q301.2,207.2 328.1,218.9" fill="none" stroke="#e377c2" stroke-opacity="0.10" stroke-width="0.72"/>
<path d="M273.46,196.80 Q303.6,213.4 334.3,225.4" fill="none" stroke="#ffffff" stroke-opacity="0.55" stroke-width="0.83"/>
<path d="M273.46,196.80 Q303.6,213.4 334.3,225.4" fill="none" stroke="#f7b6d2" stroke-opacity="0.10" stroke-width="0.83"/>
<path d="M274.79,194.72 Q303.3,207.7 332.7,217.1" fill="none" stroke="#ffffff" stroke-opacity="0.55" stroke-width="1.24"/>
<path d="M274.79,194.72 Q303.3,207.7 332.7,217.1" fill="none" stroke="#7f7f7f" stroke-opacity="0.10" stroke-width="1.24"/>
<path d="M276.22,192.70 Q305.7,205.5 334.2,220.4" fill="none" stroke="#ffffff" stroke-opacity="0.55" stroke-width="0.70"/>
<path d="M276.22,192.70 Q305.7,205.5 334.2,220.4" fill="none" stroke="#c7c7c7" stroke-opacity="0.10" stroke-width="0.70"/>
<path d="M277.75,190.76 Q306.7,210.9 331.5,228.6" fill="none" stroke="#ffffff" stroke-opacity="0.55" stroke-width="1.27"/>
<path d="M277.75,190.76 Q306.7,210.9 331.5,228.6" fill="none" stroke="#bcbd22" stroke-opacity="0.10" stroke-width="1.27"/>
<path d="M279.38,188.90 Q304.4,201.4 329.9,216.5" fill="none" stroke="#ffffff" stroke-opacity="0.55" stroke-width="0.75"/>
<path d="M279.38,188.90 Q304.4,201.4 329.9,216.5" fill="none" stroke="#dbdb8d" stroke-opacity="0.10" stroke-width="0.75"/>
<path d="M281.10,187.12 Q306.0,204.8 330.9,224.8" fill="none" stroke="#ffffff" stroke-opacity="0.55" stroke-width="1.19"/>
<path d="M281.10,187.12 Q306.0,204.8 330.9,224.8" fill="none" stroke="#17becf" stroke-opacity="0.10" stroke-width="1.19"/>
<path d="M282.90,185.43 Q306.3,200.7 334.9,221.6" fill="none" stroke="#ffffff" stroke-opacity="0.55" stroke-width="1.21"/>
<path d="M282.90,185.43 Q306.3,200.7 334.9,221.6" fill="none" stroke="#9edae5" stroke-opacity="0.10" stroke-width="1.21"/>
<path d="M284.78,183.83 Q307.0,203.9 328.3,226.3" fill="none" stroke="#ffffff" stroke-opacity="0.55" stroke-width="1.15"/>
<path d="M284.78,183.83 Q307.0,203.9 328.3,226.3" fill="none" stroke="#1f77b4" stroke-opacity="0.10" stroke-width="1.15"/>
<path d="M286.75,182.32 Q307.2,196.3 328.1,215.9" fill="none" stroke="#ffffff" stroke-opacity="0.55" stroke-width="1.18"/>
<path d="M286.75,182.32 Q307.2,196.3 328.1,215.9" fill="none" stroke="#aec7e8" stroke-opacity="0.10" stroke-width="1.18"/>
<path d="M288.78,180.92 Q306.5,199.3 329.7,216.0" fill="none" stroke="#ffffff" stroke-opacity="0.55" stroke-width="0.91"/>
<path d="M288.78,180.92 Q306.5,199.3 329.7,216.0" fill="none" stroke="#ff7f0e" stroke-opacity="0.10" stroke-width="0.91"/>
<path d="M290.88,179.61 Q313.5,205.2 332.4,225.3" fill="none" stroke="#ffffff" stroke-opacity="0.55" stroke-width="1.08"/>
<path d="M290.88,179.61 Q313.5,205.2 332.4,225.3" fill="none" stroke="#ffbb78" stroke-opacity="0.10" stroke-width="1.08"/>
<path d="M293.05,178.42 Q309.3,197.3 329.4,222.1" fill="none" stroke="#ffffff" stroke-opacity="0.55" stroke-width="0.93"/>
<path d="M293.05,178.42 Q309.3,197.3 329.4,222.1" fill="none" stroke="#2ca02c" stroke-opacity="0.10" stroke-width="0.93"/>
<g mask="url(#mk)">
<path d="M316.58,166.80 A55.7,55.7 0 0 1 318.92,166.88 L317.15,195.02 L316.43,195.00 Z" fill="#1f77b4"/>
<path d="M319.30,166.90 A55.7,55.7 0 0 1 345.52,175.26 C339.69,183.07 333.00,193.06 330.4,196.6 Q326,198.4 322.0,196.8 C318.93,182.61 318.97,172.59 319.30,166.90 Z" fill="#aec7e8" />
<path d="M347.15,176.32 A55.7,55.7 0 0 1 350.60,178.85 L331.58,201.06 L331.33,200.88 Z" fill="#ff7f0e" fill-opacity="1.0"/>
<path d="M351.20,179.34 A55.7,55.7 0 0 1 359.41,187.60 L334.49,203.52 L334.16,203.20 Z" fill="#ffbb78" fill-opacity="1.0"/>
<path d="M359.89,188.21 A55.7,55.7 0 0 1 364.62,195.33 L337.91,207.59 L337.69,207.27 Z" fill="#2ca02c" fill-opacity="1.0"/>
<path d="M364.81,195.67 A55.7,55.7 0 0 1 366.15,198.26 L339.54,210.33 L339.40,210.07 Z" fill="#98df8a" fill-opacity="0.7"/>
<path d="M366.40,198.78 A55.7,55.7 0 0 1 367.42,201.09 L340.23,211.76 L340.11,211.50 Z" fill="#d62728" fill-opacity="0.9"/>
<path d="M367.64,201.63 A55.7,55.7 0 0 1 368.79,204.73 L340.84,213.27 L340.74,212.99 Z" fill="#ff9896" fill-opacity="0.7"/>
<path d="M368.97,205.29 A55.7,55.7 0 0 1 369.70,207.71 L341.38,214.88 L341.30,214.61 Z" fill="#9467bd" fill-opacity="0.6"/>
<path d="M369.85,208.27 A55.7,55.7 0 0 1 370.85,212.83 L341.86,216.71 L341.79,216.39 Z" fill="#c5b0d5" fill-opacity="0.8"/>
<path d="M370.95,213.40 A55.7,55.7 0 0 1 371.68,220.94 L342.35,219.72 L342.31,219.34 Z" fill="#8c564b" fill-opacity="1.0"/>
<path d="M371.69,221.33 A55.7,55.7 0 0 1 371.07,230.83 L342.46,223.87 L342.48,223.46 Z" fill="#c49c94" fill-opacity="0.9"/>
<path d="M370.98,231.41 A55.7,55.7 0 0 1 369.60,237.67 L341.91,228.05 L341.98,227.70 Z" fill="#e377c2" fill-opacity="1.0"/>
<path d="M369.43,238.23 A55.7,55.7 0 0 1 367.93,242.64 L341.12,230.94 L341.22,230.64 Z" fill="#f7b6d2" fill-opacity="0.8"/>
<path d="M367.72,243.19 A55.7,55.7 0 0 1 366.64,245.69 L340.36,232.93 L340.47,232.67 Z" fill="#7f7f7f" fill-opacity="0.6"/>
<path d="M366.40,246.22 A55.7,55.7 0 0 1 365.00,248.99 L339.67,234.42 L339.80,234.16 Z" fill="#c7c7c7" fill-opacity="0.8"/>
<path d="M363.13,252.18 A55.7,55.7 0 0 1 359.29,257.55 L337.66,237.76 L337.87,237.47 Z" fill="#bcbd22" fill-opacity="1.0"/>
<path d="M358.92,258.00 A55.7,55.7 0 0 1 357.00,260.20 L335.98,239.90 L336.17,239.69 Z" fill="#dbdb8d" fill-opacity="0.6"/>
<path d="M356.60,260.63 A55.7,55.7 0 0 1 354.69,262.57 L334.88,241.10 L335.08,240.89 Z" fill="#17becf" fill-opacity="0.5"/>
<path d="M354.27,262.97 A55.7,55.7 0 0 1 352.10,264.92 L333.71,242.21 L333.93,242.02 Z" fill="#9edae5" fill-opacity="0.6"/>
<path d="M351.65,265.29 A55.7,55.7 0 0 1 349.52,266.98 L332.47,243.26 L332.69,243.08 Z" fill="#1f77b4" fill-opacity="0.4"/>
<path d="M349.05,267.33 A55.7,55.7 0 0 1 346.82,268.89 L331.21,244.20 L331.44,244.04 Z" fill="#aec7e8" fill-opacity="0.5"/>
<path d="M346.34,269.21 A55.7,55.7 0 0 1 344.02,270.64 L329.90,245.06 L330.14,244.91 Z" fill="#ff7f0e" fill-opacity="0.4"/>
<path d="M343.51,270.93 A55.7,55.7 0 0 1 341.11,272.22 L328.53,245.85 L328.78,245.71 Z" fill="#ffbb78" fill-opacity="0.5"/>
<path d="M340.59,272.48 A55.7,55.7 0 0 1 336.14,274.43 L326.76,246.72 L327.05,246.59 Z" fill="#ffbb78" fill-opacity="0.8"/>
<path d="M335.60,274.64 A55.7,55.7 0 0 1 330.98,276.15 L324.34,247.65 L324.65,247.55 Z" fill="#2ca02c" fill-opacity="1.0"/>
<path d="M330.60,276.25 A55.7,55.7 0 0 1 323.75,277.66 L321.54,248.41 L321.90,248.34 Z" fill="#98df8a" fill-opacity="0.8"/>
<path d="M323.17,277.74 A55.7,55.7 0 0 1 320.47,278.02 L318.78,248.85 L319.07,248.82 Z" fill="#d62728" fill-opacity="0.4"/>
<path d="M319.89,278.06 A55.7,55.7 0 0 1 316.39,278.20 L317.07,248.98 L317.37,248.96 Z" fill="#ff9896" fill-opacity="0.7"/>
<path d="M315.51,278.20 A55.7,55.7 0 0 1 313.76,278.16 L316.05,251.20 Z" fill="#ffffff" fill-opacity="0.5"/>
<path d="M315.51,278.20 A55.7,55.7 0 0 1 313.76,278.16 L316.05,251.20 Z" fill="#c49c94" fill-opacity="0.55"/>
<path d="M312.74,278.10 A55.7,55.7 0 0 1 311.00,277.98 L314.44,254.91 Z" fill="#ffffff" fill-opacity="0.5"/>
<path d="M312.74,278.10 A55.7,55.7 0 0 1 311.00,277.98 L314.44,254.91 Z" fill="#e377c2" fill-opacity="0.55"/>
<path d="M309.98,277.87 A55.7,55.7 0 0 1 308.25,277.66 L312.90,254.14 Z" fill="#ffffff" fill-opacity="0.5"/>
<path d="M309.98,277.87 A55.7,55.7 0 0 1 308.25,277.66 L312.90,254.14 Z" fill="#f7b6d2" fill-opacity="0.55"/>
<path d="M307.24,277.51 A55.7,55.7 0 0 1 305.51,277.20 L311.40,253.44 Z" fill="#ffffff" fill-opacity="0.5"/>
<path d="M307.24,277.51 A55.7,55.7 0 0 1 305.51,277.20 L311.40,253.44 Z" fill="#7f7f7f" fill-opacity="0.55"/>
<path d="M304.51,277.00 A55.7,55.7 0 0 1 302.80,276.61 L310.35,250.76 Z" fill="#ffffff" fill-opacity="0.5"/>
<path d="M304.51,277.00 A55.7,55.7 0 0 1 302.80,276.61 L310.35,250.76 Z" fill="#c7c7c7" fill-opacity="0.55"/>
<path d="M301.81,276.36 A55.7,55.7 0 0 1 300.13,275.89 L308.65,251.64 Z" fill="#ffffff" fill-opacity="0.5"/>
<path d="M301.81,276.36 A55.7,55.7 0 0 1 300.13,275.89 L308.65,251.64 Z" fill="#bcbd22" fill-opacity="0.55"/>
<path d="M299.15,275.59 A55.7,55.7 0 0 1 297.49,275.04 L307.40,250.61 Z" fill="#ffffff" fill-opacity="0.5"/>
<path d="M299.15,275.59 A55.7,55.7 0 0 1 297.49,275.04 L307.40,250.61 Z" fill="#dbdb8d" fill-opacity="0.55"/>
<path d="M296.53,274.69 A55.7,55.7 0 0 1 294.90,274.05 L306.35,249.22 Z" fill="#ffffff" fill-opacity="0.5"/>
<path d="M296.53,274.69 A55.7,55.7 0 0 1 294.90,274.05 L306.35,249.22 Z" fill="#17becf" fill-opacity="0.55"/>
<path d="M293.96,273.65 A55.7,55.7 0 0 1 292.37,272.94 L304.05,251.05 Z" fill="#ffffff" fill-opacity="0.5"/>
<path d="M293.96,273.65 A55.7,55.7 0 0 1 292.37,272.94 L304.05,251.05 Z" fill="#9edae5" fill-opacity="0.55"/>
<path d="M291.45,272.50 A55.7,55.7 0 0 1 289.89,271.70 L303.85,247.90 Z" fill="#ffffff" fill-opacity="0.5"/>
<path d="M291.45,272.50 A55.7,55.7 0 0 1 289.89,271.70 L303.85,247.90 Z" fill="#1f77b4" fill-opacity="0.55"/>
<path d="M288.99,271.21 A55.7,55.7 0 0 1 287.47,270.34 L302.99,246.56 Z" fill="#ffffff" fill-opacity="0.5"/>
<path d="M288.99,271.21 A55.7,55.7 0 0 1 287.47,270.34 L302.99,246.56 Z" fill="#aec7e8" fill-opacity="0.55"/>
<path d="M286.60,269.81 A55.7,55.7 0 0 1 285.13,268.86 L298.83,250.79 Z" fill="#ffffff" fill-opacity="0.5"/>
<path d="M286.60,269.81 A55.7,55.7 0 0 1 285.13,268.86 L298.83,250.79 Z" fill="#ff7f0e" fill-opacity="0.55"/>
<path d="M284.28,268.29 A55.7,55.7 0 0 1 282.86,267.27 L300.76,245.00 Z" fill="#ffffff" fill-opacity="0.5"/>
<path d="M284.28,268.29 A55.7,55.7 0 0 1 282.86,267.27 L300.76,245.00 Z" fill="#ffbb78" fill-opacity="0.55"/>
<path d="M282.05,266.65 A55.7,55.7 0 0 1 280.68,265.57 L298.78,245.39 Z" fill="#ffffff" fill-opacity="0.5"/>
<path d="M282.05,266.65 A55.7,55.7 0 0 1 280.68,265.57 L298.78,245.39 Z" fill="#2ca02c" fill-opacity="0.55"/>
<path d="M279.89,264.91 A55.7,55.7 0 0 1 278.58,263.76 L295.01,247.69 Z" fill="#ffffff" fill-opacity="0.5"/>
<path d="M279.89,264.91 A55.7,55.7 0 0 1 278.58,263.76 L295.01,247.69 Z" fill="#98df8a" fill-opacity="0.55"/>
<path d="M277.83,263.06 A55.7,55.7 0 0 1 276.57,261.84 L295.31,244.95 Z" fill="#ffffff" fill-opacity="0.5"/>
<path d="M277.83,263.06 A55.7,55.7 0 0 1 276.57,261.84 L295.31,244.95 Z" fill="#d62728" fill-opacity="0.55"/>
<path d="M275.86,261.11 A55.7,55.7 0 0 1 274.66,259.83 L295.08,243.05 Z" fill="#ffffff" fill-opacity="0.5"/>
<path d="M275.86,261.11 A55.7,55.7 0 0 1 274.66,259.83 L295.08,243.05 Z" fill="#ff9896" fill-opacity="0.55"/>
<path d="M273.99,259.07 A55.7,55.7 0 0 1 272.86,257.73 L295.57,240.66 Z" fill="#ffffff" fill-opacity="0.5"/>
<path d="M273.99,259.07 A55.7,55.7 0 0 1 272.86,257.73 L295.57,240.66 Z" fill="#9467bd" fill-opacity="0.55"/>
<path d="M272.22,256.93 A55.7,55.7 0 0 1 271.16,255.54 L291.79,241.96 Z" fill="#ffffff" fill-opacity="0.5"/>
<path d="M272.22,256.93 A55.7,55.7 0 0 1 271.16,255.54 L291.79,241.96 Z" fill="#c5b0d5" fill-opacity="0.55"/>
<path d="M270.56,254.71 A55.7,55.7 0 0 1 269.57,253.27 L291.94,239.94 Z" fill="#ffffff" fill-opacity="0.5"/>
<path d="M270.56,254.71 A55.7,55.7 0 0 1 269.57,253.27 L291.94,239.94 Z" fill="#8c564b" fill-opacity="0.55"/>
<path d="M269.01,252.41 A55.7,55.7 0 0 1 268.10,250.92 L292.92,237.54 Z" fill="#ffffff" fill-opacity="0.5"/>
<path d="M269.01,252.41 A55.7,55.7 0 0 1 268.10,250.92 L292.92,237.54 Z" fill="#c49c94" fill-opacity="0.55"/>
<path d="M267.58,250.04 A55.7,55.7 0 0 1 266.74,248.51 L291.70,236.66 Z" fill="#ffffff" fill-opacity="0.5"/>
<path d="M267.58,250.04 A55.7,55.7 0 0 1 266.74,248.51 L291.70,236.66 Z" fill="#e377c2" fill-opacity="0.55"/>
<path d="M266.28,247.60 A55.7,55.7 0 0 1 265.51,246.02 L291.95,234.96 Z" fill="#ffffff" fill-opacity="0.5"/>
<path d="M266.28,247.60 A55.7,55.7 0 0 1 265.51,246.02 L291.95,234.96 Z" fill="#f7b6d2" fill-opacity="0.55"/>
<path d="M265.09,245.09 A55.7,55.7 0 0 1 264.40,243.48 L288.29,235.14 Z" fill="#ffffff" fill-opacity="0.5"/>
<path d="M265.09,245.09 A55.7,55.7 0 0 1 264.40,243.48 L288.29,235.14 Z" fill="#7f7f7f" fill-opacity="0.55"/>
<path d="M264.03,242.53 A55.7,55.7 0 0 1 263.42,240.89 L288.92,233.27 Z" fill="#ffffff" fill-opacity="0.5"/>
<path d="M264.03,242.53 A55.7,55.7 0 0 1 263.42,240.89 L288.92,233.27 Z" fill="#c7c7c7" fill-opacity="0.55"/>
<path d="M263.10,239.92 A55.7,55.7 0 0 1 262.57,238.25 L285.46,232.91 Z" fill="#ffffff" fill-opacity="0.5"/>
<path d="M263.10,239.92 A55.7,55.7 0 0 1 262.57,238.25 L285.46,232.91 Z" fill="#bcbd22" fill-opacity="0.55"/>
<path d="M262.29,237.27 A55.7,55.7 0 0 1 261.86,235.58 L288.46,230.39 Z" fill="#ffffff" fill-opacity="0.5"/>
<path d="M262.29,237.27 A55.7,55.7 0 0 1 261.86,235.58 L288.46,230.39 Z" fill="#dbdb8d" fill-opacity="0.55"/>
<path d="M261.63,234.58 A55.7,55.7 0 0 1 261.27,232.87 L288.76,228.85 Z" fill="#ffffff" fill-opacity="0.5"/>
<path d="M261.63,234.58 A55.7,55.7 0 0 1 261.27,232.87 L288.76,228.85 Z" fill="#17becf" fill-opacity="0.55"/>
<path d="M261.09,231.86 A55.7,55.7 0 0 1 260.83,230.13 L287.26,227.71 Z" fill="#ffffff" fill-opacity="0.5"/>
<path d="M261.09,231.86 A55.7,55.7 0 0 1 260.83,230.13 L287.26,227.71 Z" fill="#9edae5" fill-opacity="0.55"/>
<path d="M260.69,229.12 A55.7,55.7 0 0 1 260.51,227.38 L280.34,227.15 Z" fill="#ffffff" fill-opacity="0.6"/>
<path d="M260.69,229.12 A55.7,55.7 0 0 1 260.51,227.38 L280.34,227.15 Z" fill="#1f77b4" fill-opacity="0.25"/>
<path d="M260.43,226.36 A55.7,55.7 0 0 1 260.34,224.61 L276.13,225.69 Z" fill="#ffffff" fill-opacity="0.6"/>
<path d="M260.43,226.36 A55.7,55.7 0 0 1 260.34,224.61 L276.13,225.69 Z" fill="#aec7e8" fill-opacity="0.25"/>
<path d="M260.31,223.59 A55.7,55.7 0 0 1 260.30,221.84 L281.52,223.54 Z" fill="#ffffff" fill-opacity="0.6"/>
<path d="M260.31,223.59 A55.7,55.7 0 0 1 260.30,221.84 L281.52,223.54 Z" fill="#ff7f0e" fill-opacity="0.25"/>
<path d="M260.33,220.82 A55.7,55.7 0 0 1 260.41,219.07 L282.15,221.83 Z" fill="#ffffff" fill-opacity="0.6"/>
<path d="M260.33,220.82 A55.7,55.7 0 0 1 260.41,219.07 L282.15,221.83 Z" fill="#ffbb78" fill-opacity="0.25"/>
<path d="M260.48,218.06 A55.7,55.7 0 0 1 260.64,216.31 L282.20,220.15 Z" fill="#ffffff" fill-opacity="0.6"/>
<path d="M260.48,218.06 A55.7,55.7 0 0 1 260.64,216.31 L282.20,220.15 Z" fill="#2ca02c" fill-opacity="0.25"/>
<path d="M260.77,215.30 A55.7,55.7 0 0 1 261.02,213.57 L278.86,218.05 Z" fill="#ffffff" fill-opacity="0.6"/>
<path d="M260.77,215.30 A55.7,55.7 0 0 1 261.02,213.57 L278.86,218.05 Z" fill="#98df8a" fill-opacity="0.25"/>
<path d="M261.19,212.56 A55.7,55.7 0 0 1 261.53,210.84 L281.13,216.55 Z" fill="#ffffff" fill-opacity="0.6"/>
<path d="M261.19,212.56 A55.7,55.7 0 0 1 261.53,210.84 L281.13,216.55 Z" fill="#d62728" fill-opacity="0.25"/>
<path d="M261.76,209.85 A55.7,55.7 0 0 1 262.18,208.15 L277.80,214.01 Z" fill="#ffffff" fill-opacity="0.6"/>
<path d="M261.76,209.85 A55.7,55.7 0 0 1 262.18,208.15 L277.80,214.01 Z" fill="#ff9896" fill-opacity="0.25"/>
<path d="M262.45,207.17 A55.7,55.7 0 0 1 262.96,205.49 L282.81,213.37 Z" fill="#ffffff" fill-opacity="0.6"/>
<path d="M262.45,207.17 A55.7,55.7 0 0 1 262.96,205.49 L282.81,213.37 Z" fill="#9467bd" fill-opacity="0.25"/>
<path d="M263.28,204.52 A55.7,55.7 0 0 1 263.87,202.87 L282.90,211.60 Z" fill="#ffffff" fill-opacity="0.6"/>
<path d="M263.28,204.52 A55.7,55.7 0 0 1 263.87,202.87 L282.90,211.60 Z" fill="#c5b0d5" fill-opacity="0.25"/>
<path d="M264.24,201.92 A55.7,55.7 0 0 1 264.91,200.31 L279.69,208.50 Z" fill="#ffffff" fill-opacity="0.6"/>
<path d="M264.24,201.92 A55.7,55.7 0 0 1 264.91,200.31 L279.69,208.50 Z" fill="#8c564b" fill-opacity="0.25"/>
<path d="M265.33,199.37 A55.7,55.7 0 0 1 266.08,197.79 L278.49,205.85 Z" fill="#ffffff" fill-opacity="0.6"/>
<path d="M265.33,199.37 A55.7,55.7 0 0 1 266.08,197.79 L278.49,205.85 Z" fill="#c49c94" fill-opacity="0.25"/>
<path d="M266.54,196.88 A55.7,55.7 0 0 1 267.37,195.34 L281.92,205.30 Z" fill="#ffffff" fill-opacity="0.6"/>
<path d="M266.54,196.88 A55.7,55.7 0 0 1 267.37,195.34 L281.92,205.30 Z" fill="#e377c2" fill-opacity="0.25"/>
<path d="M267.88,194.45 A55.7,55.7 0 0 1 268.78,192.96 L278.28,201.04 Z" fill="#ffffff" fill-opacity="0.75"/>
<path d="M267.88,194.45 A55.7,55.7 0 0 1 268.78,192.96 L278.28,201.04 Z" fill="#f7b6d2" fill-opacity="0.12"/>
<path d="M269.33,192.09 A55.7,55.7 0 0 1 270.31,190.64 L280.50,199.89 Z" fill="#ffffff" fill-opacity="0.75"/>
<path d="M269.33,192.09 A55.7,55.7 0 0 1 270.31,190.64 L280.50,199.89 Z" fill="#7f7f7f" fill-opacity="0.12"/>
<path d="M270.90,189.81 A55.7,55.7 0 0 1 271.95,188.41 L280.29,197.18 Z" fill="#ffffff" fill-opacity="0.75"/>
<path d="M270.90,189.81 A55.7,55.7 0 0 1 271.95,188.41 L280.29,197.18 Z" fill="#c7c7c7" fill-opacity="0.12"/>
<path d="M272.58,187.61 A55.7,55.7 0 0 1 273.70,186.26 L279.43,193.73 Z" fill="#ffffff" fill-opacity="0.75"/>
<path d="M272.58,187.61 A55.7,55.7 0 0 1 273.70,186.26 L279.43,193.73 Z" fill="#bcbd22" fill-opacity="0.12"/>
<path d="M274.37,185.49 A55.7,55.7 0 0 1 275.55,184.20 L284.44,195.03 Z" fill="#ffffff" fill-opacity="0.75"/>
<path d="M274.37,185.49 A55.7,55.7 0 0 1 275.55,184.20 L284.44,195.03 Z" fill="#dbdb8d" fill-opacity="0.12"/>
<path d="M276.26,183.47 A55.7,55.7 0 0 1 277.51,182.24 L282.62,190.39 Z" fill="#ffffff" fill-opacity="0.75"/>
<path d="M276.26,183.47 A55.7,55.7 0 0 1 277.51,182.24 L282.62,190.39 Z" fill="#17becf" fill-opacity="0.12"/>
<path d="M278.25,181.54 A55.7,55.7 0 0 1 279.56,180.37 L287.28,191.99 Z" fill="#ffffff" fill-opacity="0.75"/>
<path d="M278.25,181.54 A55.7,55.7 0 0 1 279.56,180.37 L287.28,191.99 Z" fill="#9edae5" fill-opacity="0.12"/>
<path d="M280.34,179.71 A55.7,55.7 0 0 1 281.70,178.61 L286.40,187.73 Z" fill="#ffffff" fill-opacity="0.75"/>
<path d="M280.34,179.71 A55.7,55.7 0 0 1 281.70,178.61 L286.40,187.73 Z" fill="#1f77b4" fill-opacity="0.12"/>
<path d="M282.51,177.99 A55.7,55.7 0 0 1 283.92,176.96 L288.76,187.07 Z" fill="#ffffff" fill-opacity="0.75"/>
<path d="M282.51,177.99 A55.7,55.7 0 0 1 283.92,176.96 L288.76,187.07 Z" fill="#aec7e8" fill-opacity="0.12"/>
<path d="M284.77,176.38 A55.7,55.7 0 0 1 286.23,175.42 L292.10,188.00 Z" fill="#ffffff" fill-opacity="0.75"/>
<path d="M284.77,176.38 A55.7,55.7 0 0 1 286.23,175.42 L292.10,188.00 Z" fill="#ff7f0e" fill-opacity="0.12"/>
<path d="M287.10,174.89 A55.7,55.7 0 0 1 288.61,174.00 L291.80,183.55 Z" fill="#ffffff" fill-opacity="0.75"/>
<path d="M287.10,174.89 A55.7,55.7 0 0 1 288.61,174.00 L291.80,183.55 Z" fill="#ffbb78" fill-opacity="0.12"/>
<path d="M289.50,173.51 A55.7,55.7 0 0 1 291.05,172.70 L293.79,182.44 Z" fill="#ffffff" fill-opacity="0.75"/>
<path d="M289.50,173.51 A55.7,55.7 0 0 1 291.05,172.70 L293.79,182.44 Z" fill="#2ca02c" fill-opacity="0.12"/>
<path d="M291.97,172.25 A55.7,55.7 0 0 1 293.56,171.52 L296.78,183.36 Z" fill="#ffffff" fill-opacity="0.75"/>
<path d="M291.97,172.25 A55.7,55.7 0 0 1 293.56,171.52 L296.78,183.36 Z" fill="#98df8a" fill-opacity="0.12"/>
<path d="M294.50,171.12 A55.7,55.7 0 0 1 296.12,170.47 L299.24,183.60 Z" fill="#ffffff" fill-opacity="0.75"/>
<path d="M294.50,171.12 A55.7,55.7 0 0 1 296.12,170.47 L299.24,183.60 Z" fill="#d62728" fill-opacity="0.12"/>
<path d="M297.08,170.11 A55.7,55.7 0 0 1 298.74,169.54 L301.44,183.47 Z" fill="#ffffff" fill-opacity="0.75"/>
<path d="M297.08,170.11 A55.7,55.7 0 0 1 298.74,169.54 L301.44,183.47 Z" fill="#ff9896" fill-opacity="0.12"/>
<path d="M299.71,169.24 A55.7,55.7 0 0 1 301.39,168.75 L303.13,181.93 Z" fill="#ffffff" fill-opacity="0.75"/>
<path d="M299.71,169.24 A55.7,55.7 0 0 1 301.39,168.75 L303.13,181.93 Z" fill="#9467bd" fill-opacity="0.12"/>
<path d="M302.38,168.49 A55.7,55.7 0 0 1 304.08,168.09 L305.55,182.83 Z" fill="#ffffff" fill-opacity="0.75"/>
<path d="M302.38,168.49 A55.7,55.7 0 0 1 304.08,168.09 L305.55,182.83 Z" fill="#c5b0d5" fill-opacity="0.12"/>
<path d="M305.08,167.88 A55.7,55.7 0 0 1 306.80,167.56 L306.98,179.70 Z" fill="#ffffff" fill-opacity="0.75"/>
<path d="M305.08,167.88 A55.7,55.7 0 0 1 306.80,167.56 L306.98,179.70 Z" fill="#8c564b" fill-opacity="0.12"/>
<path d="M307.81,167.40 A55.7,55.7 0 0 1 309.55,167.17 L309.55,182.01 Z" fill="#ffffff" fill-opacity="0.75"/>
<path d="M307.81,167.40 A55.7,55.7 0 0 1 309.55,167.17 L309.55,182.01 Z" fill="#c49c94" fill-opacity="0.12"/>
<path d="M310.56,167.07 A55.7,55.7 0 0 1 312.31,166.92 L311.01,176.59 Z" fill="#ffffff" fill-opacity="0.75"/>
<path d="M310.56,167.07 A55.7,55.7 0 0 1 312.31,166.92 L311.01,176.59 Z" fill="#e377c2" fill-opacity="0.12"/>
<path d="M313.33,166.86 A55.7,55.7 0 0 1 315.08,166.81 L313.35,177.21 Z" fill="#ffffff" fill-opacity="0.75"/>
<path d="M313.33,166.86 A55.7,55.7 0 0 1 315.08,166.81 L313.35,177.21 Z" fill="#f7b6d2" fill-opacity="0.12"/>
</g>
<text transform="translate(320.28,165.56) rotate(-85.70)" font-family="Liberation Sans" font-size="3.35" fill="#3a3a3a" stroke="#4a4a4a" stroke-width="0.1" dy="1.2">USA</text>
<text transform="translate(349.96,176.60) rotate(-53.50)" font-family="Liberation Sans" font-size="3.35" fill="#3a3a3a" stroke="#4a4a4a" stroke-width="0.1" dy="1.2">SOUTH KOREA</text>
<text transform="translate(354.80,180.60) rotate(-47.20)" font-family="Liberation Sans" font-size="3.35" fill="#3a3a3a" stroke="#4a4a4a" stroke-width="0.1" dy="1.2">CHINA</text>
<text transform="translate(360.69,186.95) rotate(-38.50)" font-family="Liberation Sans" font-size="3.35" fill="#3a3a3a" stroke="#4a4a4a" stroke-width="0.1" dy="1.2">AUSTRALIA</text>
<text transform="translate(366.60,196.05) rotate(-27.60)" font-family="Liberation Sans" font-size="3.35" fill="#3a3a3a" stroke="#4a4a4a" stroke-width="0.1" dy="1.2">IRELAND</text>
<text transform="translate(368.20,199.37) rotate(-23.90)" font-family="Liberation Sans" font-size="3.35" fill="#3a3a3a" stroke="#4a4a4a" stroke-width="0.1" dy="1.2">BELGIUM</text>
<text transform="translate(370.09,204.19) rotate(-18.70)" font-family="Liberation Sans" font-size="3.35" fill="#3a3a3a" stroke="#4a4a4a" stroke-width="0.1" dy="1.2">DENMARK</text>
<text transform="translate(371.40,208.69) rotate(-14.00)" font-family="Liberation Sans" font-size="3.35" fill="#3a3a3a" stroke="#4a4a4a" stroke-width="0.1" dy="1.2">MALAYSIA</text>
<text transform="translate(372.20,212.39) rotate(-10.20)" font-family="Liberation Sans" font-size="3.35" fill="#3a3a3a" stroke="#4a4a4a" stroke-width="0.1" dy="1.2">NETHERLANDS</text>
<text transform="translate(372.67,215.54) rotate(-7.00)" font-family="Liberation Sans" font-size="3.35" fill="#3a3a3a" stroke="#4a4a4a" stroke-width="0.1" dy="1.2">UK</text>
<text transform="translate(373.02,225.49) rotate(3.00)" font-family="Liberation Sans" font-size="3.35" fill="#3a3a3a" stroke="#4a4a4a" stroke-width="0.1" dy="1.2">CANADA</text>
<text transform="translate(371.28,236.80) rotate(14.50)" font-family="Liberation Sans" font-size="3.35" fill="#3a3a3a" stroke="#4a4a4a" stroke-width="0.1" dy="1.2">GERMANY</text>
<text transform="translate(369.31,242.96) rotate(21.00)" font-family="Liberation Sans" font-size="3.35" fill="#3a3a3a" stroke="#4a4a4a" stroke-width="0.1" dy="1.2">PORTUGAL</text>
<text transform="translate(367.67,246.81) rotate(25.20)" font-family="Liberation Sans" font-size="3.35" fill="#3a3a3a" stroke="#4a4a4a" stroke-width="0.1" dy="1.2">BRAZIL</text>
<text transform="translate(365.84,250.36) rotate(29.20)" font-family="Liberation Sans" font-size="3.35" fill="#3a3a3a" stroke="#4a4a4a" stroke-width="0.1" dy="1.2">SWITZERLAND</text>
<text transform="translate(363.89,253.60) rotate(33.00)" font-family="Liberation Sans" font-size="3.35" fill="#3a3a3a" stroke="#4a4a4a" stroke-width="0.1" dy="1.2">FINLAND</text>
<text transform="translate(361.60,256.86) rotate(37.00)" font-family="Liberation Sans" font-size="3.35" fill="#3a3a3a" stroke="#4a4a4a" stroke-width="0.1" dy="1.2">ITALY</text>
<text transform="translate(359.03,260.04) rotate(41.10)" font-family="Liberation Sans" font-size="3.35" fill="#3a3a3a" stroke="#4a4a4a" stroke-width="0.1" dy="1.2">NORWAY</text>
<text transform="translate(356.66,262.59) rotate(44.60)" font-family="Liberation Sans" font-size="3.35" fill="#3a3a3a" stroke="#4a4a4a" stroke-width="0.1" dy="1.2">AUSTRIA</text>
<text transform="translate(354.13,265.00) rotate(48.10)" font-family="Liberation Sans" font-size="3.35" fill="#3a3a3a" stroke="#4a4a4a" stroke-width="0.1" dy="1.2">ISRAEL</text>
<text transform="translate(351.47,267.25) rotate(51.60)" font-family="Liberation Sans" font-size="3.35" fill="#3a3a3a" stroke="#4a4a4a" stroke-width="0.1" dy="1.2">SINGAPORE</text>
<text transform="translate(348.75,269.27) rotate(55.00)" font-family="Liberation Sans" font-size="3.35" fill="#3a3a3a" stroke="#4a4a4a" stroke-width="0.1" dy="1.2">TURKEY</text>
<text transform="translate(345.92,271.13) rotate(58.40)" font-family="Liberation Sans" font-size="3.35" fill="#3a3a3a" stroke="#4a4a4a" stroke-width="0.1" dy="1.2">IRAN</text>
<text transform="translate(342.98,272.82) rotate(61.80)" font-family="Liberation Sans" font-size="3.35" fill="#3a3a3a" stroke="#4a4a4a" stroke-width="0.1" dy="1.2">INDIA</text>
<text transform="translate(338.95,274.78) rotate(66.30)" font-family="Liberation Sans" font-size="3.35" fill="#3a3a3a" stroke="#4a4a4a" stroke-width="0.1" dy="1.2">SPAIN</text>
<text transform="translate(333.74,276.77) rotate(71.90)" font-family="Liberation Sans" font-size="3.35" fill="#3a3a3a" stroke="#4a4a4a" stroke-width="0.1" dy="1.2">FRANCE</text>
<text transform="translate(327.48,278.43) rotate(78.40)" font-family="Liberation Sans" font-size="3.35" fill="#3a3a3a" stroke="#4a4a4a" stroke-width="0.1" dy="1.2">SWEDEN</text>
<text transform="translate(321.97,279.29) rotate(84.00)" font-family="Liberation Sans" font-size="3.35" fill="#3a3a3a" stroke="#4a4a4a" stroke-width="0.1" dy="1.2">POLAND</text>
<text transform="translate(318.19,279.56) rotate(87.80)" font-family="Liberation Sans" font-size="3.35" fill="#3a3a3a" stroke="#4a4a4a" stroke-width="0.1" dy="1.2">GREECE</text>
<text transform="translate(314.60,279.58) rotate(271.40)" font-family="Liberation Sans" font-size="3.35" fill="#3a3a3a" stroke="#4a4a4a" stroke-width="0.1" text-anchor="end" dy="1.2">NEW ZEALAND</text>
<text transform="translate(311.77,279.44) rotate(274.25)" font-family="Liberation Sans" font-size="3.35" fill="#3a3a3a" stroke="#4a4a4a" stroke-width="0.1" text-anchor="end" dy="1.2">TAIWAN</text>
<text transform="translate(308.94,279.16) rotate(277.10)" font-family="Liberation Sans" font-size="3.35" fill="#3a3a3a" stroke="#4a4a4a" stroke-width="0.1" text-anchor="end" dy="1.2">ARGENTINA</text>
<text transform="translate(306.13,278.74) rotate(279.95)" font-family="Liberation Sans" font-size="3.35" fill="#3a3a3a" stroke="#4a4a4a" stroke-width="0.1" text-anchor="end" dy="1.2">THAILAND</text>
<text transform="translate(303.35,278.18) rotate(282.80)" font-family="Liberation Sans" font-size="3.35" fill="#3a3a3a" stroke="#4a4a4a" stroke-width="0.1" text-anchor="end" dy="1.2">SCOTLAND</text>
<text transform="translate(300.59,277.48) rotate(285.65)" font-family="Liberation Sans" font-size="3.35" fill="#3a3a3a" stroke="#4a4a4a" stroke-width="0.1" text-anchor="end" dy="1.2">COLOMBIA</text>
<text transform="translate(297.88,276.65) rotate(288.51)" font-family="Liberation Sans" font-size="3.35" fill="#3a3a3a" stroke="#4a4a4a" stroke-width="0.1" text-anchor="end" dy="1.2">SINGAPORE</text>
<text transform="translate(295.21,275.68) rotate(291.36)" font-family="Liberation Sans" font-size="3.35" fill="#3a3a3a" stroke="#4a4a4a" stroke-width="0.1" text-anchor="end" dy="1.2">MEXICO</text>
<text transform="translate(292.59,274.58) rotate(294.21)" font-family="Liberation Sans" font-size="3.35" fill="#3a3a3a" stroke="#4a4a4a" stroke-width="0.1" text-anchor="end" dy="1.2">CHILE</text>
<text transform="translate(290.03,273.35) rotate(297.06)" font-family="Liberation Sans" font-size="3.35" fill="#3a3a3a" stroke="#4a4a4a" stroke-width="0.1" text-anchor="end" dy="1.2">EGYPT</text>
<text transform="translate(287.53,272.00) rotate(299.91)" font-family="Liberation Sans" font-size="3.35" fill="#3a3a3a" stroke="#4a4a4a" stroke-width="0.1" text-anchor="end" dy="1.2">HUNGARY</text>
<text transform="translate(285.10,270.52) rotate(302.76)" font-family="Liberation Sans" font-size="3.35" fill="#3a3a3a" stroke="#4a4a4a" stroke-width="0.1" text-anchor="end" dy="1.2">SLOVENIA</text>
<text transform="translate(282.75,268.92) rotate(305.61)" font-family="Liberation Sans" font-size="3.35" fill="#3a3a3a" stroke="#4a4a4a" stroke-width="0.1" text-anchor="end" dy="1.2">CROATIA</text>
<text transform="translate(280.49,267.21) rotate(308.46)" font-family="Liberation Sans" font-size="3.35" fill="#3a3a3a" stroke="#4a4a4a" stroke-width="0.1" text-anchor="end" dy="1.2">SERBIA</text>
<text transform="translate(278.31,265.39) rotate(311.31)" font-family="Liberation Sans" font-size="3.35" fill="#3a3a3a" stroke="#4a4a4a" stroke-width="0.1" text-anchor="end" dy="1.2">ROMANIA</text>
<text transform="translate(276.22,263.46) rotate(314.16)" font-family="Liberation Sans" font-size="3.35" fill="#3a3a3a" stroke="#4a4a4a" stroke-width="0.1" text-anchor="end" dy="1.2">ESTONIA</text>
<text transform="translate(274.23,261.43) rotate(317.01)" font-family="Liberation Sans" font-size="3.35" fill="#3a3a3a" stroke="#4a4a4a" stroke-width="0.1" text-anchor="end" dy="1.2">NIGERIA</text>
<text transform="translate(272.35,259.31) rotate(319.86)" font-family="Liberation Sans" font-size="3.35" fill="#3a3a3a" stroke="#4a4a4a" stroke-width="0.1" text-anchor="end" dy="1.2">KENYA</text>
<text transform="translate(270.57,257.09) rotate(322.71)" font-family="Liberation Sans" font-size="3.35" fill="#3a3a3a" stroke="#4a4a4a" stroke-width="0.1" text-anchor="end" dy="1.2">QATAR</text>
<text transform="translate(268.91,254.79) rotate(325.57)" font-family="Liberation Sans" font-size="3.35" fill="#3a3a3a" stroke="#4a4a4a" stroke-width="0.1" text-anchor="end" dy="1.2">ICELAND</text>
<text transform="translate(267.36,252.41) rotate(328.42)" font-family="Liberation Sans" font-size="3.35" fill="#3a3a3a" stroke="#4a4a4a" stroke-width="0.1" text-anchor="end" dy="1.2">KUWAIT</text>
<text transform="translate(265.93,249.95) rotate(331.27)" font-family="Liberation Sans" font-size="3.35" fill="#3a3a3a" stroke="#4a4a4a" stroke-width="0.1" text-anchor="end" dy="1.2">JORDAN</text>
<text transform="translate(264.63,247.43) rotate(334.12)" font-family="Liberation Sans" font-size="3.35" fill="#3a3a3a" stroke="#4a4a4a" stroke-width="0.1" text-anchor="end" dy="1.2">TUNISIA</text>
<text transform="translate(263.45,244.84) rotate(336.97)" font-family="Liberation Sans" font-size="3.35" fill="#3a3a3a" stroke="#4a4a4a" stroke-width="0.1" text-anchor="end" dy="1.2">MOROCCO</text>
<text transform="translate(262.41,242.20) rotate(339.82)" font-family="Liberation Sans" font-size="3.35" fill="#3a3a3a" stroke="#4a4a4a" stroke-width="0.1" text-anchor="end" dy="1.2">VIETNAM</text>
<text transform="translate(261.49,239.51) rotate(342.67)" font-family="Liberation Sans" font-size="3.35" fill="#3a3a3a" stroke="#4a4a4a" stroke-width="0.1" text-anchor="end" dy="1.2">PAKISTAN</text>
<text transform="translate(260.71,236.78) rotate(345.52)" font-family="Liberation Sans" font-size="3.35" fill="#3a3a3a" stroke="#4a4a4a" stroke-width="0.1" text-anchor="end" dy="1.2">INDONESIA</text>
<text transform="translate(260.07,234.01) rotate(348.37)" font-family="Liberation Sans" font-size="3.35" fill="#3a3a3a" stroke="#4a4a4a" stroke-width="0.1" text-anchor="end" dy="1.2">ETHIOPIA</text>
<text transform="translate(259.57,231.21) rotate(351.22)" font-family="Liberation Sans" font-size="3.35" fill="#3a3a3a" stroke="#4a4a4a" stroke-width="0.1" text-anchor="end" dy="1.2">LITHUANIA</text>
<text transform="translate(259.21,228.40) rotate(354.07)" font-family="Liberation Sans" font-size="3.35" fill="#3a3a3a" stroke="#4a4a4a" stroke-width="0.1" text-anchor="end" dy="1.2">SRI LANKA</text>
<text transform="translate(258.98,225.56) rotate(356.92)" font-family="Liberation Sans" font-size="3.35" fill="#3a3a3a" stroke="#4a4a4a" stroke-width="0.1" text-anchor="end" dy="1.2">RUSSIA</text>
<text transform="translate(258.90,222.72) rotate(359.78)" font-family="Liberation Sans" font-size="3.35" fill="#3a3a3a" stroke="#4a4a4a" stroke-width="0.1" text-anchor="end" dy="1.2">CAMEROON</text>
<text transform="translate(258.96,219.88) rotate(362.63)" font-family="Liberation Sans" font-size="3.35" fill="#3a3a3a" stroke="#4a4a4a" stroke-width="0.1" text-anchor="end" dy="1.2">BULGARIA</text>
<text transform="translate(259.16,217.05) rotate(365.48)" font-family="Liberation Sans" font-size="3.35" fill="#3a3a3a" stroke="#4a4a4a" stroke-width="0.1" text-anchor="end" dy="1.2">SLOVAKIA</text>
<text transform="translate(259.50,214.23) rotate(368.33)" font-family="Liberation Sans" font-size="3.35" fill="#3a3a3a" stroke="#4a4a4a" stroke-width="0.1" text-anchor="end" dy="1.2">CYPRUS</text>
<text transform="translate(259.98,211.43) rotate(371.18)" font-family="Liberation Sans" font-size="3.35" fill="#3a3a3a" stroke="#4a4a4a" stroke-width="0.1" text-anchor="end" dy="1.2">LEBANON</text>
<text transform="translate(260.60,208.66) rotate(374.03)" font-family="Liberation Sans" font-size="3.35" fill="#3a3a3a" stroke="#4a4a4a" stroke-width="0.1" text-anchor="end" dy="1.2">CZECH REPUBLIC</text>
<text transform="translate(261.36,205.92) rotate(376.88)" font-family="Liberation Sans" font-size="3.35" fill="#3a3a3a" stroke="#4a4a4a" stroke-width="0.1" text-anchor="end" dy="1.2">ECUADOR</text>
<text transform="translate(262.25,203.22) rotate(379.73)" font-family="Liberation Sans" font-size="3.35" fill="#3a3a3a" stroke="#4a4a4a" stroke-width="0.1" text-anchor="end" dy="1.2">URUGUAY</text>
<text transform="translate(263.28,200.57) rotate(382.58)" font-family="Liberation Sans" font-size="3.35" fill="#3a3a3a" stroke="#4a4a4a" stroke-width="0.1" text-anchor="end" dy="1.2">VENEZUELA</text>
<text transform="translate(264.43,197.98) rotate(385.43)" font-family="Liberation Sans" font-size="3.35" fill="#3a3a3a" stroke="#4a4a4a" stroke-width="0.1" text-anchor="end" dy="1.2">N IRELAND</text>
<text transform="translate(265.72,195.44) rotate(388.28)" font-family="Liberation Sans" font-size="3.35" fill="#3a3a3a" stroke="#4a4a4a" stroke-width="0.1" text-anchor="end" dy="1.2">WALES</text>
<text transform="translate(267.12,192.98) rotate(391.13)" font-family="Liberation Sans" font-size="3.35" fill="#3a3a3a" stroke="#4a4a4a" stroke-width="0.1" text-anchor="end" dy="1.2">ENGLAND</text>
<text transform="translate(268.65,190.58) rotate(393.98)" font-family="Liberation Sans" font-size="3.35" fill="#3a3a3a" stroke="#4a4a4a" stroke-width="0.1" text-anchor="end" dy="1.2">ALGERIA</text>
<text transform="translate(270.30,188.27) rotate(396.84)" font-family="Liberation Sans" font-size="3.35" fill="#3a3a3a" stroke="#4a4a4a" stroke-width="0.1" text-anchor="end" dy="1.2">LATVIA</text>
<text transform="translate(272.06,186.04) rotate(399.69)" font-family="Liberation Sans" font-size="3.35" fill="#3a3a3a" stroke="#4a4a4a" stroke-width="0.1" text-anchor="end" dy="1.2">LUXEMBOURG</text>
<text transform="translate(273.93,183.90) rotate(402.54)" font-family="Liberation Sans" font-size="3.35" fill="#3a3a3a" stroke="#4a4a4a" stroke-width="0.1" text-anchor="end" dy="1.2">BANGLADESH</text>
<text transform="translate(275.90,181.85) rotate(405.39)" font-family="Liberation Sans" font-size="3.35" fill="#3a3a3a" stroke="#4a4a4a" stroke-width="0.1" text-anchor="end" dy="1.2">GHANA</text>
<text transform="translate(277.97,179.91) rotate(408.24)" font-family="Liberation Sans" font-size="3.35" fill="#3a3a3a" stroke="#4a4a4a" stroke-width="0.1" text-anchor="end" dy="1.2">PERU</text>
<text transform="translate(280.14,178.07) rotate(411.09)" font-family="Liberation Sans" font-size="3.35" fill="#3a3a3a" stroke="#4a4a4a" stroke-width="0.1" text-anchor="end" dy="1.2">UGANDA</text>
<text transform="translate(282.39,176.34) rotate(413.94)" font-family="Liberation Sans" font-size="3.35" fill="#3a3a3a" stroke="#4a4a4a" stroke-width="0.1" text-anchor="end" dy="1.2">MALTA</text>
<text transform="translate(284.73,174.73) rotate(416.79)" font-family="Liberation Sans" font-size="3.35" fill="#3a3a3a" stroke="#4a4a4a" stroke-width="0.1" text-anchor="end" dy="1.2">BELARUS</text>
<text transform="translate(287.14,173.23) rotate(419.64)" font-family="Liberation Sans" font-size="3.35" fill="#3a3a3a" stroke="#4a4a4a" stroke-width="0.1" text-anchor="end" dy="1.2">S ARABIA</text>
<text transform="translate(289.63,171.86) rotate(422.49)" font-family="Liberation Sans" font-size="3.35" fill="#3a3a3a" stroke="#4a4a4a" stroke-width="0.1" text-anchor="end" dy="1.2">EMIRATES</text>
<text transform="translate(292.18,170.61) rotate(425.34)" font-family="Liberation Sans" font-size="3.35" fill="#3a3a3a" stroke="#4a4a4a" stroke-width="0.1" text-anchor="end" dy="1.2">BAHRAIN</text>
<text transform="translate(294.79,169.49) rotate(428.19)" font-family="Liberation Sans" font-size="3.35" fill="#3a3a3a" stroke="#4a4a4a" stroke-width="0.1" text-anchor="end" dy="1.2">IRAQ</text>
<text transform="translate(297.45,168.50) rotate(431.04)" font-family="Liberation Sans" font-size="3.35" fill="#3a3a3a" stroke="#4a4a4a" stroke-width="0.1" text-anchor="end" dy="1.2">GEORGIA</text>
<text transform="translate(300.16,167.64) rotate(433.90)" font-family="Liberation Sans" font-size="3.35" fill="#3a3a3a" stroke="#4a4a4a" stroke-width="0.1" text-anchor="end" dy="1.2">ARMENIA</text>
<text transform="translate(302.91,166.92) rotate(436.75)" font-family="Liberation Sans" font-size="3.35" fill="#3a3a3a" stroke="#4a4a4a" stroke-width="0.1" text-anchor="end" dy="1.2">MACEDONIA</text>
<text transform="translate(305.69,166.34) rotate(439.60)" font-family="Liberation Sans" font-size="3.35" fill="#3a3a3a" stroke="#4a4a4a" stroke-width="0.1" text-anchor="end" dy="1.2">BOSNIA</text>
<text transform="translate(308.50,165.90) rotate(442.45)" font-family="Liberation Sans" font-size="3.35" fill="#3a3a3a" stroke="#4a4a4a" stroke-width="0.1" text-anchor="end" dy="1.2">ALBANIA</text>
<text transform="translate(311.32,165.59) rotate(445.30)" font-family="Liberation Sans" font-size="3.35" fill="#3a3a3a" stroke="#4a4a4a" stroke-width="0.1" text-anchor="end" dy="1.2">OMAN</text>
<text transform="translate(314.16,165.43) rotate(448.15)" font-family="Liberation Sans" font-size="3.35" fill="#3a3a3a" stroke="#4a4a4a" stroke-width="0.1" text-anchor="end" dy="1.2">SYRIA</text>
</svg>
</body></html>
